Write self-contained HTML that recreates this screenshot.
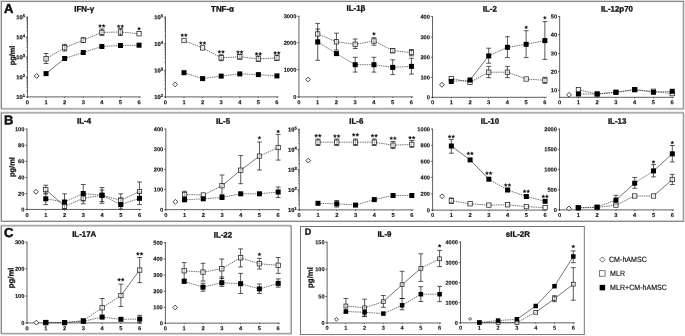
<!DOCTYPE html>
<html><head><meta charset="utf-8"><title>Cytokine panels</title>
<style>
html,body{margin:0;padding:0;background:#fff;}
body{width:685px;height:336px;overflow:hidden;font-family:"Liberation Sans",sans-serif;}
svg{display:block;filter:grayscale(1);}
</style></head><body>
<svg width="685" height="336" viewBox="0 0 685 336" font-family="Liberation Sans, sans-serif" text-rendering="geometricPrecision">
<rect x="0" y="0" width="685" height="336" fill="#fff"/>
<rect x="0.5499999999999999" y="0.6" width="682.25" height="107.5" fill="none" stroke="#d9d9d9" stroke-width="1.1"/>
<rect x="1.45" y="1.5" width="682.25" height="107.5" fill="none" stroke="#868686" stroke-width="1.05"/>
<rect x="0.5499999999999999" y="112.05" width="682.25" height="108.49999999999999" fill="none" stroke="#d9d9d9" stroke-width="1.1"/>
<rect x="1.45" y="112.95" width="682.25" height="108.49999999999999" fill="none" stroke="#868686" stroke-width="1.05"/>
<rect x="0.5499999999999999" y="225.0" width="289.85" height="107.95000000000002" fill="none" stroke="#d9d9d9" stroke-width="1.1"/>
<rect x="1.45" y="225.9" width="289.85" height="107.95000000000002" fill="none" stroke="#868686" stroke-width="1.05"/>
<rect x="300.5" y="226.5" width="283.79999999999995" height="108.10000000000002" fill="none" stroke="#686868" stroke-width="0.9"/>
<text x="4.00" y="12.90" transform="rotate(0.03 4.00 12.90)" font-size="13" text-anchor="start" font-weight="bold" fill="#111" stroke="#111" stroke-width="0.5">A</text>
<text x="4.00" y="124.40" transform="rotate(0.03 4.00 124.40)" font-size="13" text-anchor="start" font-weight="bold" fill="#111" stroke="#111" stroke-width="0.5">B</text>
<text x="4.00" y="237.10" transform="rotate(0.03 4.00 237.10)" font-size="13" text-anchor="start" font-weight="bold" fill="#111" stroke="#111" stroke-width="0.5">C</text>
<text x="304.80" y="234.70" transform="rotate(0.03 304.80 234.70)" font-size="9" text-anchor="start" font-weight="bold" fill="#111"  stroke="#111" stroke-width="0.3">D</text>
<text transform="translate(14.7,55.5) rotate(-90.03)" font-size="7.4" text-anchor="middle" font-weight="bold" fill="#111" stroke="#111" stroke-width="0.25">pg/ml</text>
<text transform="translate(14.6,167.1) rotate(-90.03)" font-size="7.5" text-anchor="middle" font-weight="bold" fill="#111" stroke="#111" stroke-width="0.25">pg/ml</text>
<text transform="translate(13.6,277.9) rotate(-90.03)" font-size="7.75" text-anchor="middle" font-weight="bold" fill="#111" stroke="#111" stroke-width="0.25">pg/ml</text>
<text transform="translate(312.7,277.5) rotate(-90.03)" font-size="7.8" text-anchor="middle" font-weight="bold" fill="#111" stroke="#111" stroke-width="0.25">pg/ml</text>
<line x1="27.45" y1="16.50" x2="27.45" y2="97.40" stroke="#222" stroke-width="0.72" />
<line x1="27.05" y1="96.90" x2="140.75" y2="96.90" stroke="#222" stroke-width="0.72" />
<line x1="27.45" y1="96.90" x2="27.45" y2="98.05" stroke="#222" stroke-width="0.648" />
<text x="27.45" y="104.25" transform="rotate(0.03 27.45 104.25)" font-size="5.7" text-anchor="middle" font-weight="bold" fill="#111"  stroke="#111" stroke-width="0.12">0</text>
<line x1="46.05" y1="96.90" x2="46.05" y2="98.05" stroke="#222" stroke-width="0.648" />
<text x="46.05" y="104.25" transform="rotate(0.03 46.05 104.25)" font-size="5.7" text-anchor="middle" font-weight="bold" fill="#111"  stroke="#111" stroke-width="0.12">1</text>
<line x1="64.65" y1="96.90" x2="64.65" y2="98.05" stroke="#222" stroke-width="0.648" />
<text x="64.65" y="104.25" transform="rotate(0.03 64.65 104.25)" font-size="5.7" text-anchor="middle" font-weight="bold" fill="#111"  stroke="#111" stroke-width="0.12">2</text>
<line x1="83.25" y1="96.90" x2="83.25" y2="98.05" stroke="#222" stroke-width="0.648" />
<text x="83.25" y="104.25" transform="rotate(0.03 83.25 104.25)" font-size="5.7" text-anchor="middle" font-weight="bold" fill="#111"  stroke="#111" stroke-width="0.12">3</text>
<line x1="101.85" y1="96.90" x2="101.85" y2="98.05" stroke="#222" stroke-width="0.648" />
<text x="101.85" y="104.25" transform="rotate(0.03 101.85 104.25)" font-size="5.7" text-anchor="middle" font-weight="bold" fill="#111"  stroke="#111" stroke-width="0.12">4</text>
<line x1="120.45" y1="96.90" x2="120.45" y2="98.05" stroke="#222" stroke-width="0.648" />
<text x="120.45" y="104.25" transform="rotate(0.03 120.45 104.25)" font-size="5.7" text-anchor="middle" font-weight="bold" fill="#111"  stroke="#111" stroke-width="0.12">5</text>
<line x1="139.05" y1="96.90" x2="139.05" y2="98.05" stroke="#222" stroke-width="0.648" />
<text x="139.05" y="104.25" transform="rotate(0.03 139.05 104.25)" font-size="5.7" text-anchor="middle" font-weight="bold" fill="#111"  stroke="#111" stroke-width="0.12">6</text>
<line x1="25.75" y1="96.90" x2="27.45" y2="96.90" stroke="#222" stroke-width="0.648" />
<text x="25.05" y="99.10" transform="rotate(0.03 25.05 99.10)" font-size="5.8" text-anchor="end" font-weight="bold" fill="#111" stroke="#111" stroke-width="0.2">10<tspan font-size="4.1" dy="-2.1">1</tspan></text>
<line x1="25.75" y1="76.95" x2="27.45" y2="76.95" stroke="#222" stroke-width="0.648" />
<text x="25.05" y="79.15" transform="rotate(0.03 25.05 79.15)" font-size="5.8" text-anchor="end" font-weight="bold" fill="#111" stroke="#111" stroke-width="0.2">10<tspan font-size="4.1" dy="-2.1">2</tspan></text>
<line x1="25.75" y1="57.00" x2="27.45" y2="57.00" stroke="#222" stroke-width="0.648" />
<text x="25.05" y="59.20" transform="rotate(0.03 25.05 59.20)" font-size="5.8" text-anchor="end" font-weight="bold" fill="#111" stroke="#111" stroke-width="0.2">10<tspan font-size="4.1" dy="-2.1">3</tspan></text>
<line x1="25.75" y1="37.05" x2="27.45" y2="37.05" stroke="#222" stroke-width="0.648" />
<text x="25.05" y="39.25" transform="rotate(0.03 25.05 39.25)" font-size="5.8" text-anchor="end" font-weight="bold" fill="#111" stroke="#111" stroke-width="0.2">10<tspan font-size="4.1" dy="-2.1">4</tspan></text>
<line x1="25.75" y1="17.10" x2="27.45" y2="17.10" stroke="#222" stroke-width="0.648" />
<text x="25.05" y="19.30" transform="rotate(0.03 25.05 19.30)" font-size="5.8" text-anchor="end" font-weight="bold" fill="#111" stroke="#111" stroke-width="0.2">10<tspan font-size="4.1" dy="-2.1">5</tspan></text>
<line x1="26.35" y1="90.89" x2="27.45" y2="90.89" stroke="#222" stroke-width="0.5" />
<line x1="26.35" y1="87.38" x2="27.45" y2="87.38" stroke="#222" stroke-width="0.5" />
<line x1="26.35" y1="84.89" x2="27.45" y2="84.89" stroke="#222" stroke-width="0.5" />
<line x1="26.35" y1="82.96" x2="27.45" y2="82.96" stroke="#222" stroke-width="0.5" />
<line x1="26.35" y1="81.38" x2="27.45" y2="81.38" stroke="#222" stroke-width="0.5" />
<line x1="26.35" y1="80.04" x2="27.45" y2="80.04" stroke="#222" stroke-width="0.5" />
<line x1="26.35" y1="78.88" x2="27.45" y2="78.88" stroke="#222" stroke-width="0.5" />
<line x1="26.35" y1="77.86" x2="27.45" y2="77.86" stroke="#222" stroke-width="0.5" />
<line x1="26.35" y1="70.94" x2="27.45" y2="70.94" stroke="#222" stroke-width="0.5" />
<line x1="26.35" y1="67.43" x2="27.45" y2="67.43" stroke="#222" stroke-width="0.5" />
<line x1="26.35" y1="64.94" x2="27.45" y2="64.94" stroke="#222" stroke-width="0.5" />
<line x1="26.35" y1="63.01" x2="27.45" y2="63.01" stroke="#222" stroke-width="0.5" />
<line x1="26.35" y1="61.43" x2="27.45" y2="61.43" stroke="#222" stroke-width="0.5" />
<line x1="26.35" y1="60.09" x2="27.45" y2="60.09" stroke="#222" stroke-width="0.5" />
<line x1="26.35" y1="58.93" x2="27.45" y2="58.93" stroke="#222" stroke-width="0.5" />
<line x1="26.35" y1="57.91" x2="27.45" y2="57.91" stroke="#222" stroke-width="0.5" />
<line x1="26.35" y1="50.99" x2="27.45" y2="50.99" stroke="#222" stroke-width="0.5" />
<line x1="26.35" y1="47.48" x2="27.45" y2="47.48" stroke="#222" stroke-width="0.5" />
<line x1="26.35" y1="44.99" x2="27.45" y2="44.99" stroke="#222" stroke-width="0.5" />
<line x1="26.35" y1="43.06" x2="27.45" y2="43.06" stroke="#222" stroke-width="0.5" />
<line x1="26.35" y1="41.48" x2="27.45" y2="41.48" stroke="#222" stroke-width="0.5" />
<line x1="26.35" y1="40.14" x2="27.45" y2="40.14" stroke="#222" stroke-width="0.5" />
<line x1="26.35" y1="38.98" x2="27.45" y2="38.98" stroke="#222" stroke-width="0.5" />
<line x1="26.35" y1="37.96" x2="27.45" y2="37.96" stroke="#222" stroke-width="0.5" />
<line x1="26.35" y1="31.04" x2="27.45" y2="31.04" stroke="#222" stroke-width="0.5" />
<line x1="26.35" y1="27.53" x2="27.45" y2="27.53" stroke="#222" stroke-width="0.5" />
<line x1="26.35" y1="25.04" x2="27.45" y2="25.04" stroke="#222" stroke-width="0.5" />
<line x1="26.35" y1="23.11" x2="27.45" y2="23.11" stroke="#222" stroke-width="0.5" />
<line x1="26.35" y1="21.53" x2="27.45" y2="21.53" stroke="#222" stroke-width="0.5" />
<line x1="26.35" y1="20.19" x2="27.45" y2="20.19" stroke="#222" stroke-width="0.5" />
<line x1="26.35" y1="19.03" x2="27.45" y2="19.03" stroke="#222" stroke-width="0.5" />
<line x1="26.35" y1="18.01" x2="27.45" y2="18.01" stroke="#222" stroke-width="0.5" />
<text x="84.20" y="11.60" transform="rotate(0.03 84.20 11.60)" font-size="7.9" text-anchor="middle" font-weight="bold" fill="#111"  stroke="#111" stroke-width="0.3">IFN-γ</text>
<line x1="46.05" y1="58.80" x2="64.65" y2="47.70" stroke="#2a2a2a" stroke-width="0.65" stroke-dasharray="1.5 0.8"/>
<line x1="64.65" y1="47.70" x2="83.25" y2="40.20" stroke="#2a2a2a" stroke-width="0.65" stroke-dasharray="1.5 0.8"/>
<line x1="83.25" y1="40.20" x2="101.85" y2="32.40" stroke="#2a2a2a" stroke-width="0.65" stroke-dasharray="1.5 0.8"/>
<line x1="101.85" y1="32.40" x2="120.45" y2="32.00" stroke="#2a2a2a" stroke-width="0.65" stroke-dasharray="1.5 0.8"/>
<line x1="120.45" y1="32.00" x2="139.05" y2="33.75" stroke="#2a2a2a" stroke-width="0.65" stroke-dasharray="1.5 0.8"/>
<line x1="46.05" y1="73.60" x2="64.65" y2="58.50" stroke="#2a2a2a" stroke-width="0.65" />
<line x1="64.65" y1="58.50" x2="83.25" y2="52.50" stroke="#2a2a2a" stroke-width="0.65" stroke-dasharray="1.5 0.8"/>
<line x1="83.25" y1="52.50" x2="101.85" y2="46.50" stroke="#2a2a2a" stroke-width="0.65" stroke-dasharray="1.5 0.8"/>
<line x1="101.85" y1="46.50" x2="120.45" y2="45.50" stroke="#2a2a2a" stroke-width="0.65" stroke-dasharray="1.5 0.8"/>
<line x1="120.45" y1="45.50" x2="139.05" y2="45.20" stroke="#2a2a2a" stroke-width="0.65" stroke-dasharray="1.5 0.8"/>
<line x1="46.05" y1="53.50" x2="46.05" y2="63.50" stroke="#1a1a1a" stroke-width="0.72" />
<line x1="43.65" y1="53.50" x2="48.45" y2="53.50" stroke="#1a1a1a" stroke-width="0.72" />
<line x1="43.65" y1="63.50" x2="48.45" y2="63.50" stroke="#1a1a1a" stroke-width="0.72" />
<line x1="64.65" y1="44.30" x2="64.65" y2="51.00" stroke="#1a1a1a" stroke-width="0.72" />
<line x1="62.25" y1="44.30" x2="67.05" y2="44.30" stroke="#1a1a1a" stroke-width="0.72" />
<line x1="62.25" y1="51.00" x2="67.05" y2="51.00" stroke="#1a1a1a" stroke-width="0.72" />
<line x1="83.25" y1="37.80" x2="83.25" y2="42.50" stroke="#1a1a1a" stroke-width="0.72" />
<line x1="80.85" y1="37.80" x2="85.65" y2="37.80" stroke="#1a1a1a" stroke-width="0.72" />
<line x1="80.85" y1="42.50" x2="85.65" y2="42.50" stroke="#1a1a1a" stroke-width="0.72" />
<line x1="101.85" y1="29.00" x2="101.85" y2="35.60" stroke="#1a1a1a" stroke-width="0.72" />
<line x1="99.45" y1="29.00" x2="104.25" y2="29.00" stroke="#1a1a1a" stroke-width="0.72" />
<line x1="99.45" y1="35.60" x2="104.25" y2="35.60" stroke="#1a1a1a" stroke-width="0.72" />
<line x1="120.45" y1="28.50" x2="120.45" y2="35.50" stroke="#1a1a1a" stroke-width="0.72" />
<line x1="118.05" y1="28.50" x2="122.85" y2="28.50" stroke="#1a1a1a" stroke-width="0.72" />
<line x1="118.05" y1="35.50" x2="122.85" y2="35.50" stroke="#1a1a1a" stroke-width="0.72" />
<rect x="43.88" y="56.62" width="4.35" height="4.35" fill="#fff" fill-opacity="0.6" stroke="#222" stroke-width="0.75"/>
<rect x="62.48" y="45.53" width="4.35" height="4.35" fill="#fff" fill-opacity="0.6" stroke="#222" stroke-width="0.75"/>
<rect x="81.08" y="38.03" width="4.35" height="4.35" fill="#fff" fill-opacity="0.6" stroke="#222" stroke-width="0.75"/>
<rect x="99.68" y="30.22" width="4.35" height="4.35" fill="#fff" fill-opacity="0.6" stroke="#222" stroke-width="0.75"/>
<rect x="118.28" y="29.82" width="4.35" height="4.35" fill="#fff" fill-opacity="0.6" stroke="#222" stroke-width="0.75"/>
<rect x="136.88" y="31.57" width="4.35" height="4.35" fill="#fff" fill-opacity="0.6" stroke="#222" stroke-width="0.75"/>
<rect x="43.55" y="71.10" width="5.0" height="5.0" fill="#000"/>
<rect x="62.15" y="56.00" width="5.0" height="5.0" fill="#000"/>
<rect x="80.75" y="50.00" width="5.0" height="5.0" fill="#000"/>
<rect x="99.35" y="44.00" width="5.0" height="5.0" fill="#000"/>
<rect x="117.95" y="43.00" width="5.0" height="5.0" fill="#000"/>
<rect x="136.55" y="42.70" width="5.0" height="5.0" fill="#000"/>
<path d="M34.30 75.90L36.70 73.50L39.10 75.90L36.70 78.30Z" fill="#fff" stroke="#222" stroke-width="0.85"/>
<polygon points="100.05,24.20 100.52,25.35 101.76,25.44 100.81,26.25 101.11,27.46 100.05,26.80 98.99,27.46 99.29,26.25 98.34,25.44 99.58,25.35" fill="#111" stroke="#111" stroke-width="0.25" stroke-linejoin="round"/>
<polygon points="103.65,24.20 104.12,25.35 105.36,25.44 104.41,26.25 104.71,27.46 103.65,26.80 102.59,27.46 102.89,26.25 101.94,25.44 103.18,25.35" fill="#111" stroke="#111" stroke-width="0.25" stroke-linejoin="round"/>
<polygon points="118.65,24.50 119.12,25.65 120.36,25.74 119.41,26.55 119.71,27.76 118.65,27.10 117.59,27.76 117.89,26.55 116.94,25.74 118.18,25.65" fill="#111" stroke="#111" stroke-width="0.25" stroke-linejoin="round"/>
<polygon points="122.25,24.50 122.72,25.65 123.96,25.74 123.01,26.55 123.31,27.76 122.25,27.10 121.19,27.76 121.49,26.55 120.54,25.74 121.78,25.65" fill="#111" stroke="#111" stroke-width="0.25" stroke-linejoin="round"/>
<polygon points="139.05,26.90 139.52,28.05 140.76,28.14 139.81,28.95 140.11,30.16 139.05,29.50 137.99,30.16 138.29,28.95 137.34,28.14 138.58,28.05" fill="#111" stroke="#111" stroke-width="0.25" stroke-linejoin="round"/>
<line x1="165.45" y1="16.50" x2="165.45" y2="97.40" stroke="#222" stroke-width="0.72" />
<line x1="165.05" y1="96.90" x2="278.63" y2="96.90" stroke="#222" stroke-width="0.72" />
<line x1="165.45" y1="96.90" x2="165.45" y2="98.05" stroke="#222" stroke-width="0.648" />
<text x="165.45" y="104.25" transform="rotate(0.03 165.45 104.25)" font-size="5.7" text-anchor="middle" font-weight="bold" fill="#111"  stroke="#111" stroke-width="0.12">0</text>
<line x1="184.03" y1="96.90" x2="184.03" y2="98.05" stroke="#222" stroke-width="0.648" />
<text x="184.03" y="104.25" transform="rotate(0.03 184.03 104.25)" font-size="5.7" text-anchor="middle" font-weight="bold" fill="#111"  stroke="#111" stroke-width="0.12">1</text>
<line x1="202.61" y1="96.90" x2="202.61" y2="98.05" stroke="#222" stroke-width="0.648" />
<text x="202.61" y="104.25" transform="rotate(0.03 202.61 104.25)" font-size="5.7" text-anchor="middle" font-weight="bold" fill="#111"  stroke="#111" stroke-width="0.12">2</text>
<line x1="221.19" y1="96.90" x2="221.19" y2="98.05" stroke="#222" stroke-width="0.648" />
<text x="221.19" y="104.25" transform="rotate(0.03 221.19 104.25)" font-size="5.7" text-anchor="middle" font-weight="bold" fill="#111"  stroke="#111" stroke-width="0.12">3</text>
<line x1="239.77" y1="96.90" x2="239.77" y2="98.05" stroke="#222" stroke-width="0.648" />
<text x="239.77" y="104.25" transform="rotate(0.03 239.77 104.25)" font-size="5.7" text-anchor="middle" font-weight="bold" fill="#111"  stroke="#111" stroke-width="0.12">4</text>
<line x1="258.35" y1="96.90" x2="258.35" y2="98.05" stroke="#222" stroke-width="0.648" />
<text x="258.35" y="104.25" transform="rotate(0.03 258.35 104.25)" font-size="5.7" text-anchor="middle" font-weight="bold" fill="#111"  stroke="#111" stroke-width="0.12">5</text>
<line x1="276.93" y1="96.90" x2="276.93" y2="98.05" stroke="#222" stroke-width="0.648" />
<text x="276.93" y="104.25" transform="rotate(0.03 276.93 104.25)" font-size="5.7" text-anchor="middle" font-weight="bold" fill="#111"  stroke="#111" stroke-width="0.12">6</text>
<line x1="163.75" y1="96.90" x2="165.45" y2="96.90" stroke="#222" stroke-width="0.648" />
<text x="163.05" y="99.10" transform="rotate(0.03 163.05 99.10)" font-size="5.8" text-anchor="end" font-weight="bold" fill="#111" stroke="#111" stroke-width="0.2">10<tspan font-size="4.1" dy="-2.1">2</tspan></text>
<line x1="163.75" y1="70.30" x2="165.45" y2="70.30" stroke="#222" stroke-width="0.648" />
<text x="163.05" y="72.50" transform="rotate(0.03 163.05 72.50)" font-size="5.8" text-anchor="end" font-weight="bold" fill="#111" stroke="#111" stroke-width="0.2">10<tspan font-size="4.1" dy="-2.1">3</tspan></text>
<line x1="163.75" y1="43.70" x2="165.45" y2="43.70" stroke="#222" stroke-width="0.648" />
<text x="163.05" y="45.90" transform="rotate(0.03 163.05 45.90)" font-size="5.8" text-anchor="end" font-weight="bold" fill="#111" stroke="#111" stroke-width="0.2">10<tspan font-size="4.1" dy="-2.1">4</tspan></text>
<line x1="163.75" y1="17.10" x2="165.45" y2="17.10" stroke="#222" stroke-width="0.648" />
<text x="163.05" y="19.30" transform="rotate(0.03 163.05 19.30)" font-size="5.8" text-anchor="end" font-weight="bold" fill="#111" stroke="#111" stroke-width="0.2">10<tspan font-size="4.1" dy="-2.1">5</tspan></text>
<line x1="164.35" y1="88.89" x2="165.45" y2="88.89" stroke="#222" stroke-width="0.5" />
<line x1="164.35" y1="84.21" x2="165.45" y2="84.21" stroke="#222" stroke-width="0.5" />
<line x1="164.35" y1="80.89" x2="165.45" y2="80.89" stroke="#222" stroke-width="0.5" />
<line x1="164.35" y1="78.31" x2="165.45" y2="78.31" stroke="#222" stroke-width="0.5" />
<line x1="164.35" y1="76.20" x2="165.45" y2="76.20" stroke="#222" stroke-width="0.5" />
<line x1="164.35" y1="74.42" x2="165.45" y2="74.42" stroke="#222" stroke-width="0.5" />
<line x1="164.35" y1="72.88" x2="165.45" y2="72.88" stroke="#222" stroke-width="0.5" />
<line x1="164.35" y1="71.52" x2="165.45" y2="71.52" stroke="#222" stroke-width="0.5" />
<line x1="164.35" y1="62.29" x2="165.45" y2="62.29" stroke="#222" stroke-width="0.5" />
<line x1="164.35" y1="57.61" x2="165.45" y2="57.61" stroke="#222" stroke-width="0.5" />
<line x1="164.35" y1="54.29" x2="165.45" y2="54.29" stroke="#222" stroke-width="0.5" />
<line x1="164.35" y1="51.71" x2="165.45" y2="51.71" stroke="#222" stroke-width="0.5" />
<line x1="164.35" y1="49.60" x2="165.45" y2="49.60" stroke="#222" stroke-width="0.5" />
<line x1="164.35" y1="47.82" x2="165.45" y2="47.82" stroke="#222" stroke-width="0.5" />
<line x1="164.35" y1="46.28" x2="165.45" y2="46.28" stroke="#222" stroke-width="0.5" />
<line x1="164.35" y1="44.92" x2="165.45" y2="44.92" stroke="#222" stroke-width="0.5" />
<line x1="164.35" y1="35.69" x2="165.45" y2="35.69" stroke="#222" stroke-width="0.5" />
<line x1="164.35" y1="31.01" x2="165.45" y2="31.01" stroke="#222" stroke-width="0.5" />
<line x1="164.35" y1="27.69" x2="165.45" y2="27.69" stroke="#222" stroke-width="0.5" />
<line x1="164.35" y1="25.11" x2="165.45" y2="25.11" stroke="#222" stroke-width="0.5" />
<line x1="164.35" y1="23.00" x2="165.45" y2="23.00" stroke="#222" stroke-width="0.5" />
<line x1="164.35" y1="21.22" x2="165.45" y2="21.22" stroke="#222" stroke-width="0.5" />
<line x1="164.35" y1="19.68" x2="165.45" y2="19.68" stroke="#222" stroke-width="0.5" />
<line x1="164.35" y1="18.32" x2="165.45" y2="18.32" stroke="#222" stroke-width="0.5" />
<text x="222.50" y="11.40" transform="rotate(0.03 222.50 11.40)" font-size="7.9" text-anchor="middle" font-weight="bold" fill="#111"  stroke="#111" stroke-width="0.3">TNF-α</text>
<line x1="184.03" y1="40.50" x2="202.61" y2="47.90" stroke="#2a2a2a" stroke-width="0.65" stroke-dasharray="1.5 0.8"/>
<line x1="202.61" y1="47.90" x2="221.19" y2="57.80" stroke="#2a2a2a" stroke-width="0.65" stroke-dasharray="1.5 0.8"/>
<line x1="221.19" y1="57.80" x2="239.77" y2="56.80" stroke="#2a2a2a" stroke-width="0.65" stroke-dasharray="1.5 0.8"/>
<line x1="239.77" y1="56.80" x2="258.35" y2="58.90" stroke="#2a2a2a" stroke-width="0.65" stroke-dasharray="1.5 0.8"/>
<line x1="258.35" y1="58.90" x2="276.93" y2="57.90" stroke="#2a2a2a" stroke-width="0.65" stroke-dasharray="1.5 0.8"/>
<line x1="184.03" y1="72.70" x2="202.61" y2="78.60" stroke="#2a2a2a" stroke-width="0.65" stroke-dasharray="1.5 0.8"/>
<line x1="202.61" y1="78.60" x2="221.19" y2="76.10" stroke="#2a2a2a" stroke-width="0.65" stroke-dasharray="1.5 0.8"/>
<line x1="221.19" y1="76.10" x2="239.77" y2="73.90" stroke="#2a2a2a" stroke-width="0.65" stroke-dasharray="1.5 0.8"/>
<line x1="239.77" y1="73.90" x2="258.35" y2="74.60" stroke="#2a2a2a" stroke-width="0.65" stroke-dasharray="1.5 0.8"/>
<line x1="258.35" y1="74.60" x2="276.93" y2="75.90" stroke="#2a2a2a" stroke-width="0.65" stroke-dasharray="1.5 0.8"/>
<line x1="221.19" y1="54.80" x2="221.19" y2="60.70" stroke="#1a1a1a" stroke-width="0.72" />
<line x1="218.79" y1="54.80" x2="223.59" y2="54.80" stroke="#1a1a1a" stroke-width="0.72" />
<line x1="218.79" y1="60.70" x2="223.59" y2="60.70" stroke="#1a1a1a" stroke-width="0.72" />
<line x1="239.77" y1="54.30" x2="239.77" y2="59.30" stroke="#1a1a1a" stroke-width="0.72" />
<line x1="237.37" y1="54.30" x2="242.17" y2="54.30" stroke="#1a1a1a" stroke-width="0.72" />
<line x1="237.37" y1="59.30" x2="242.17" y2="59.30" stroke="#1a1a1a" stroke-width="0.72" />
<line x1="258.35" y1="56.00" x2="258.35" y2="61.50" stroke="#1a1a1a" stroke-width="0.72" />
<line x1="255.95" y1="56.00" x2="260.75" y2="56.00" stroke="#1a1a1a" stroke-width="0.72" />
<line x1="255.95" y1="61.50" x2="260.75" y2="61.50" stroke="#1a1a1a" stroke-width="0.72" />
<line x1="276.93" y1="55.20" x2="276.93" y2="60.50" stroke="#1a1a1a" stroke-width="0.72" />
<line x1="274.53" y1="55.20" x2="279.33" y2="55.20" stroke="#1a1a1a" stroke-width="0.72" />
<line x1="274.53" y1="60.50" x2="279.33" y2="60.50" stroke="#1a1a1a" stroke-width="0.72" />
<rect x="181.85" y="38.33" width="4.35" height="4.35" fill="#fff" fill-opacity="0.6" stroke="#222" stroke-width="0.75"/>
<rect x="200.43" y="45.73" width="4.35" height="4.35" fill="#fff" fill-opacity="0.6" stroke="#222" stroke-width="0.75"/>
<rect x="219.01" y="55.62" width="4.35" height="4.35" fill="#fff" fill-opacity="0.6" stroke="#222" stroke-width="0.75"/>
<rect x="237.59" y="54.62" width="4.35" height="4.35" fill="#fff" fill-opacity="0.6" stroke="#222" stroke-width="0.75"/>
<rect x="256.17" y="56.73" width="4.35" height="4.35" fill="#fff" fill-opacity="0.6" stroke="#222" stroke-width="0.75"/>
<rect x="274.75" y="55.73" width="4.35" height="4.35" fill="#fff" fill-opacity="0.6" stroke="#222" stroke-width="0.75"/>
<rect x="181.53" y="70.20" width="5.0" height="5.0" fill="#000"/>
<rect x="200.11" y="76.10" width="5.0" height="5.0" fill="#000"/>
<rect x="218.69" y="73.60" width="5.0" height="5.0" fill="#000"/>
<rect x="237.27" y="71.40" width="5.0" height="5.0" fill="#000"/>
<rect x="255.85" y="72.10" width="5.0" height="5.0" fill="#000"/>
<rect x="274.43" y="73.40" width="5.0" height="5.0" fill="#000"/>
<path d="M172.80 84.40L175.20 82.00L177.60 84.40L175.20 86.80Z" fill="#fff" stroke="#222" stroke-width="0.85"/>
<polygon points="182.23,33.40 182.70,34.55 183.94,34.64 182.99,35.45 183.29,36.66 182.23,36.00 181.17,36.66 181.47,35.45 180.52,34.64 181.76,34.55" fill="#111" stroke="#111" stroke-width="0.25" stroke-linejoin="round"/>
<polygon points="185.83,33.40 186.30,34.55 187.54,34.64 186.59,35.45 186.89,36.66 185.83,36.00 184.77,36.66 185.07,35.45 184.12,34.64 185.36,34.55" fill="#111" stroke="#111" stroke-width="0.25" stroke-linejoin="round"/>
<polygon points="200.81,41.30 201.28,42.45 202.52,42.54 201.57,43.35 201.87,44.56 200.81,43.90 199.75,44.56 200.05,43.35 199.10,42.54 200.34,42.45" fill="#111" stroke="#111" stroke-width="0.25" stroke-linejoin="round"/>
<polygon points="204.41,41.30 204.88,42.45 206.12,42.54 205.17,43.35 205.47,44.56 204.41,43.90 203.35,44.56 203.65,43.35 202.70,42.54 203.94,42.45" fill="#111" stroke="#111" stroke-width="0.25" stroke-linejoin="round"/>
<polygon points="219.39,50.10 219.86,51.25 221.10,51.34 220.15,52.15 220.45,53.36 219.39,52.70 218.33,53.36 218.63,52.15 217.68,51.34 218.92,51.25" fill="#111" stroke="#111" stroke-width="0.25" stroke-linejoin="round"/>
<polygon points="222.99,50.10 223.46,51.25 224.70,51.34 223.75,52.15 224.05,53.36 222.99,52.70 221.93,53.36 222.23,52.15 221.28,51.34 222.52,51.25" fill="#111" stroke="#111" stroke-width="0.25" stroke-linejoin="round"/>
<polygon points="237.97,50.35 238.44,51.50 239.68,51.59 238.73,52.40 239.03,53.61 237.97,52.95 236.91,53.61 237.21,52.40 236.26,51.59 237.50,51.50" fill="#111" stroke="#111" stroke-width="0.25" stroke-linejoin="round"/>
<polygon points="241.57,50.35 242.04,51.50 243.28,51.59 242.33,52.40 242.63,53.61 241.57,52.95 240.51,53.61 240.81,52.40 239.86,51.59 241.10,51.50" fill="#111" stroke="#111" stroke-width="0.25" stroke-linejoin="round"/>
<polygon points="256.55,52.10 257.02,53.25 258.26,53.34 257.31,54.15 257.61,55.36 256.55,54.70 255.49,55.36 255.79,54.15 254.84,53.34 256.08,53.25" fill="#111" stroke="#111" stroke-width="0.25" stroke-linejoin="round"/>
<polygon points="260.15,52.10 260.62,53.25 261.86,53.34 260.91,54.15 261.21,55.36 260.15,54.70 259.09,55.36 259.39,54.15 258.44,53.34 259.68,53.25" fill="#111" stroke="#111" stroke-width="0.25" stroke-linejoin="round"/>
<polygon points="275.13,51.20 275.60,52.35 276.84,52.44 275.89,53.25 276.19,54.46 275.13,53.80 274.07,54.46 274.37,53.25 273.42,52.44 274.66,52.35" fill="#111" stroke="#111" stroke-width="0.25" stroke-linejoin="round"/>
<polygon points="278.73,51.20 279.20,52.35 280.44,52.44 279.49,53.25 279.79,54.46 278.73,53.80 277.67,54.46 277.97,53.25 277.02,52.44 278.26,52.35" fill="#111" stroke="#111" stroke-width="0.25" stroke-linejoin="round"/>
<line x1="298.95" y1="15.80" x2="298.95" y2="97.40" stroke="#222" stroke-width="0.72" />
<line x1="298.55" y1="96.90" x2="413.15" y2="96.90" stroke="#222" stroke-width="0.72" />
<line x1="298.95" y1="96.90" x2="298.95" y2="98.05" stroke="#222" stroke-width="0.648" />
<text x="298.95" y="104.25" transform="rotate(0.03 298.95 104.25)" font-size="5.7" text-anchor="middle" font-weight="bold" fill="#111"  stroke="#111" stroke-width="0.12">0</text>
<line x1="317.70" y1="96.90" x2="317.70" y2="98.05" stroke="#222" stroke-width="0.648" />
<text x="317.70" y="104.25" transform="rotate(0.03 317.70 104.25)" font-size="5.7" text-anchor="middle" font-weight="bold" fill="#111"  stroke="#111" stroke-width="0.12">1</text>
<line x1="336.45" y1="96.90" x2="336.45" y2="98.05" stroke="#222" stroke-width="0.648" />
<text x="336.45" y="104.25" transform="rotate(0.03 336.45 104.25)" font-size="5.7" text-anchor="middle" font-weight="bold" fill="#111"  stroke="#111" stroke-width="0.12">2</text>
<line x1="355.20" y1="96.90" x2="355.20" y2="98.05" stroke="#222" stroke-width="0.648" />
<text x="355.20" y="104.25" transform="rotate(0.03 355.20 104.25)" font-size="5.7" text-anchor="middle" font-weight="bold" fill="#111"  stroke="#111" stroke-width="0.12">3</text>
<line x1="373.95" y1="96.90" x2="373.95" y2="98.05" stroke="#222" stroke-width="0.648" />
<text x="373.95" y="104.25" transform="rotate(0.03 373.95 104.25)" font-size="5.7" text-anchor="middle" font-weight="bold" fill="#111"  stroke="#111" stroke-width="0.12">4</text>
<line x1="392.70" y1="96.90" x2="392.70" y2="98.05" stroke="#222" stroke-width="0.648" />
<text x="392.70" y="104.25" transform="rotate(0.03 392.70 104.25)" font-size="5.7" text-anchor="middle" font-weight="bold" fill="#111"  stroke="#111" stroke-width="0.12">5</text>
<line x1="411.45" y1="96.90" x2="411.45" y2="98.05" stroke="#222" stroke-width="0.648" />
<text x="411.45" y="104.25" transform="rotate(0.03 411.45 104.25)" font-size="5.7" text-anchor="middle" font-weight="bold" fill="#111"  stroke="#111" stroke-width="0.12">6</text>
<line x1="297.25" y1="96.90" x2="298.95" y2="96.90" stroke="#222" stroke-width="0.648" />
<text x="296.35" y="98.95" transform="rotate(0.03 296.35 98.95)" font-size="5.7" text-anchor="end" font-weight="bold" fill="#111"  stroke="#111" stroke-width="0.12">0</text>
<line x1="297.25" y1="69.60" x2="298.95" y2="69.60" stroke="#222" stroke-width="0.648" />
<text x="296.35" y="71.65" transform="rotate(0.03 296.35 71.65)" font-size="5.7" text-anchor="end" font-weight="bold" fill="#111"  stroke="#111" stroke-width="0.12">1000</text>
<line x1="297.25" y1="42.70" x2="298.95" y2="42.70" stroke="#222" stroke-width="0.648" />
<text x="296.35" y="44.75" transform="rotate(0.03 296.35 44.75)" font-size="5.7" text-anchor="end" font-weight="bold" fill="#111"  stroke="#111" stroke-width="0.12">2000</text>
<line x1="297.25" y1="16.30" x2="298.95" y2="16.30" stroke="#222" stroke-width="0.648" />
<text x="296.35" y="18.35" transform="rotate(0.03 296.35 18.35)" font-size="5.7" text-anchor="end" font-weight="bold" fill="#111"  stroke="#111" stroke-width="0.12">3000</text>
<text x="356.00" y="10.70" transform="rotate(0.03 356.00 10.70)" font-size="7.9" text-anchor="middle" font-weight="bold" fill="#111"  stroke="#111" stroke-width="0.3">IL-1β</text>
<line x1="317.70" y1="34.00" x2="336.45" y2="41.80" stroke="#2a2a2a" stroke-width="0.65" stroke-dasharray="1.5 0.8"/>
<line x1="336.45" y1="41.80" x2="355.20" y2="44.30" stroke="#2a2a2a" stroke-width="0.65" stroke-dasharray="1.5 0.8"/>
<line x1="355.20" y1="44.30" x2="373.95" y2="41.00" stroke="#2a2a2a" stroke-width="0.65" stroke-dasharray="1.5 0.8"/>
<line x1="373.95" y1="41.00" x2="392.70" y2="50.60" stroke="#2a2a2a" stroke-width="0.65" stroke-dasharray="1.5 0.8"/>
<line x1="392.70" y1="50.60" x2="411.45" y2="52.60" stroke="#2a2a2a" stroke-width="0.65" stroke-dasharray="1.5 0.8"/>
<line x1="317.70" y1="41.80" x2="336.45" y2="53.60" stroke="#2a2a2a" stroke-width="0.65" stroke-dasharray="1.5 0.8"/>
<line x1="336.45" y1="53.60" x2="355.20" y2="64.70" stroke="#2a2a2a" stroke-width="0.65" stroke-dasharray="1.5 0.8"/>
<line x1="355.20" y1="64.70" x2="373.95" y2="64.70" stroke="#2a2a2a" stroke-width="0.65" stroke-dasharray="1.5 0.8"/>
<line x1="373.95" y1="64.70" x2="392.70" y2="67.40" stroke="#2a2a2a" stroke-width="0.65" stroke-dasharray="1.5 0.8"/>
<line x1="392.70" y1="67.40" x2="411.45" y2="66.40" stroke="#2a2a2a" stroke-width="0.65" stroke-dasharray="1.5 0.8"/>
<line x1="317.70" y1="23.40" x2="317.70" y2="44.00" stroke="#1a1a1a" stroke-width="0.72" />
<line x1="315.30" y1="23.40" x2="320.10" y2="23.40" stroke="#1a1a1a" stroke-width="0.72" />
<line x1="315.30" y1="44.00" x2="320.10" y2="44.00" stroke="#1a1a1a" stroke-width="0.72" />
<line x1="336.45" y1="33.20" x2="336.45" y2="50.00" stroke="#1a1a1a" stroke-width="0.72" />
<line x1="334.05" y1="33.20" x2="338.85" y2="33.20" stroke="#1a1a1a" stroke-width="0.72" />
<line x1="334.05" y1="50.00" x2="338.85" y2="50.00" stroke="#1a1a1a" stroke-width="0.72" />
<line x1="355.20" y1="39.00" x2="355.20" y2="48.50" stroke="#1a1a1a" stroke-width="0.72" />
<line x1="352.80" y1="39.00" x2="357.60" y2="39.00" stroke="#1a1a1a" stroke-width="0.72" />
<line x1="352.80" y1="48.50" x2="357.60" y2="48.50" stroke="#1a1a1a" stroke-width="0.72" />
<line x1="373.95" y1="37.70" x2="373.95" y2="45.20" stroke="#1a1a1a" stroke-width="0.72" />
<line x1="371.55" y1="37.70" x2="376.35" y2="37.70" stroke="#1a1a1a" stroke-width="0.72" />
<line x1="371.55" y1="45.20" x2="376.35" y2="45.20" stroke="#1a1a1a" stroke-width="0.72" />
<line x1="392.70" y1="48.50" x2="392.70" y2="52.80" stroke="#1a1a1a" stroke-width="0.72" />
<line x1="390.30" y1="48.50" x2="395.10" y2="48.50" stroke="#1a1a1a" stroke-width="0.72" />
<line x1="390.30" y1="52.80" x2="395.10" y2="52.80" stroke="#1a1a1a" stroke-width="0.72" />
<line x1="411.45" y1="49.50" x2="411.45" y2="55.80" stroke="#1a1a1a" stroke-width="0.72" />
<line x1="409.05" y1="49.50" x2="413.85" y2="49.50" stroke="#1a1a1a" stroke-width="0.72" />
<line x1="409.05" y1="55.80" x2="413.85" y2="55.80" stroke="#1a1a1a" stroke-width="0.72" />
<line x1="317.70" y1="29.00" x2="317.70" y2="60.30" stroke="#1a1a1a" stroke-width="0.72" />
<line x1="315.30" y1="29.00" x2="320.10" y2="29.00" stroke="#1a1a1a" stroke-width="0.72" />
<line x1="315.30" y1="60.30" x2="320.10" y2="60.30" stroke="#1a1a1a" stroke-width="0.72" />
<line x1="355.20" y1="57.30" x2="355.20" y2="72.10" stroke="#1a1a1a" stroke-width="0.72" />
<line x1="352.80" y1="57.30" x2="357.60" y2="57.30" stroke="#1a1a1a" stroke-width="0.72" />
<line x1="352.80" y1="72.10" x2="357.60" y2="72.10" stroke="#1a1a1a" stroke-width="0.72" />
<line x1="373.95" y1="57.30" x2="373.95" y2="72.10" stroke="#1a1a1a" stroke-width="0.72" />
<line x1="371.55" y1="57.30" x2="376.35" y2="57.30" stroke="#1a1a1a" stroke-width="0.72" />
<line x1="371.55" y1="72.10" x2="376.35" y2="72.10" stroke="#1a1a1a" stroke-width="0.72" />
<line x1="392.70" y1="59.80" x2="392.70" y2="74.60" stroke="#1a1a1a" stroke-width="0.72" />
<line x1="390.30" y1="59.80" x2="395.10" y2="59.80" stroke="#1a1a1a" stroke-width="0.72" />
<line x1="390.30" y1="74.60" x2="395.10" y2="74.60" stroke="#1a1a1a" stroke-width="0.72" />
<line x1="411.45" y1="58.30" x2="411.45" y2="74.10" stroke="#1a1a1a" stroke-width="0.72" />
<line x1="409.05" y1="58.30" x2="413.85" y2="58.30" stroke="#1a1a1a" stroke-width="0.72" />
<line x1="409.05" y1="74.10" x2="413.85" y2="74.10" stroke="#1a1a1a" stroke-width="0.72" />
<rect x="315.52" y="31.82" width="4.35" height="4.35" fill="#fff" fill-opacity="0.6" stroke="#222" stroke-width="0.75"/>
<rect x="334.27" y="39.62" width="4.35" height="4.35" fill="#fff" fill-opacity="0.6" stroke="#222" stroke-width="0.75"/>
<rect x="353.02" y="42.12" width="4.35" height="4.35" fill="#fff" fill-opacity="0.6" stroke="#222" stroke-width="0.75"/>
<rect x="371.77" y="38.83" width="4.35" height="4.35" fill="#fff" fill-opacity="0.6" stroke="#222" stroke-width="0.75"/>
<rect x="390.52" y="48.43" width="4.35" height="4.35" fill="#fff" fill-opacity="0.6" stroke="#222" stroke-width="0.75"/>
<rect x="409.27" y="50.43" width="4.35" height="4.35" fill="#fff" fill-opacity="0.6" stroke="#222" stroke-width="0.75"/>
<rect x="315.20" y="39.30" width="5.0" height="5.0" fill="#000"/>
<rect x="333.95" y="51.10" width="5.0" height="5.0" fill="#000"/>
<rect x="352.70" y="62.20" width="5.0" height="5.0" fill="#000"/>
<rect x="371.45" y="62.20" width="5.0" height="5.0" fill="#000"/>
<rect x="390.20" y="64.90" width="5.0" height="5.0" fill="#000"/>
<rect x="408.95" y="63.90" width="5.0" height="5.0" fill="#000"/>
<path d="M305.70 79.50L308.10 77.10L310.50 79.50L308.10 81.90Z" fill="#fff" stroke="#222" stroke-width="0.85"/>
<polygon points="373.95,32.05 374.42,33.20 375.66,33.29 374.71,34.10 375.01,35.31 373.95,34.65 372.89,35.31 373.19,34.10 372.24,33.29 373.48,33.20" fill="#111" stroke="#111" stroke-width="0.25" stroke-linejoin="round"/>
<line x1="432.55" y1="16.10" x2="432.55" y2="97.80" stroke="#222" stroke-width="0.72" />
<line x1="432.15" y1="97.30" x2="546.57" y2="97.30" stroke="#222" stroke-width="0.72" />
<line x1="432.55" y1="97.30" x2="432.55" y2="98.45" stroke="#222" stroke-width="0.648" />
<text x="432.55" y="104.25" transform="rotate(0.03 432.55 104.25)" font-size="5.7" text-anchor="middle" font-weight="bold" fill="#111"  stroke="#111" stroke-width="0.12">0</text>
<line x1="451.27" y1="97.30" x2="451.27" y2="98.45" stroke="#222" stroke-width="0.648" />
<text x="451.27" y="104.25" transform="rotate(0.03 451.27 104.25)" font-size="5.7" text-anchor="middle" font-weight="bold" fill="#111"  stroke="#111" stroke-width="0.12">1</text>
<line x1="469.99" y1="97.30" x2="469.99" y2="98.45" stroke="#222" stroke-width="0.648" />
<text x="469.99" y="104.25" transform="rotate(0.03 469.99 104.25)" font-size="5.7" text-anchor="middle" font-weight="bold" fill="#111"  stroke="#111" stroke-width="0.12">2</text>
<line x1="488.71" y1="97.30" x2="488.71" y2="98.45" stroke="#222" stroke-width="0.648" />
<text x="488.71" y="104.25" transform="rotate(0.03 488.71 104.25)" font-size="5.7" text-anchor="middle" font-weight="bold" fill="#111"  stroke="#111" stroke-width="0.12">3</text>
<line x1="507.43" y1="97.30" x2="507.43" y2="98.45" stroke="#222" stroke-width="0.648" />
<text x="507.43" y="104.25" transform="rotate(0.03 507.43 104.25)" font-size="5.7" text-anchor="middle" font-weight="bold" fill="#111"  stroke="#111" stroke-width="0.12">4</text>
<line x1="526.15" y1="97.30" x2="526.15" y2="98.45" stroke="#222" stroke-width="0.648" />
<text x="526.15" y="104.25" transform="rotate(0.03 526.15 104.25)" font-size="5.7" text-anchor="middle" font-weight="bold" fill="#111"  stroke="#111" stroke-width="0.12">5</text>
<line x1="544.87" y1="97.30" x2="544.87" y2="98.45" stroke="#222" stroke-width="0.648" />
<text x="544.87" y="104.25" transform="rotate(0.03 544.87 104.25)" font-size="5.7" text-anchor="middle" font-weight="bold" fill="#111"  stroke="#111" stroke-width="0.12">6</text>
<line x1="430.85" y1="97.30" x2="432.55" y2="97.30" stroke="#222" stroke-width="0.648" />
<text x="429.95" y="99.35" transform="rotate(0.03 429.95 99.35)" font-size="5.7" text-anchor="end" font-weight="bold" fill="#111"  stroke="#111" stroke-width="0.12">0</text>
<line x1="430.85" y1="77.40" x2="432.55" y2="77.40" stroke="#222" stroke-width="0.648" />
<text x="429.95" y="79.45" transform="rotate(0.03 429.95 79.45)" font-size="5.7" text-anchor="end" font-weight="bold" fill="#111"  stroke="#111" stroke-width="0.12">100</text>
<line x1="430.85" y1="57.30" x2="432.55" y2="57.30" stroke="#222" stroke-width="0.648" />
<text x="429.95" y="59.35" transform="rotate(0.03 429.95 59.35)" font-size="5.7" text-anchor="end" font-weight="bold" fill="#111"  stroke="#111" stroke-width="0.12">200</text>
<line x1="430.85" y1="37.20" x2="432.55" y2="37.20" stroke="#222" stroke-width="0.648" />
<text x="429.95" y="39.25" transform="rotate(0.03 429.95 39.25)" font-size="5.7" text-anchor="end" font-weight="bold" fill="#111"  stroke="#111" stroke-width="0.12">300</text>
<line x1="430.85" y1="16.60" x2="432.55" y2="16.60" stroke="#222" stroke-width="0.648" />
<text x="429.95" y="18.65" transform="rotate(0.03 429.95 18.65)" font-size="5.7" text-anchor="end" font-weight="bold" fill="#111"  stroke="#111" stroke-width="0.12">400</text>
<text x="489.80" y="11.50" transform="rotate(0.03 489.80 11.50)" font-size="7.9" text-anchor="middle" font-weight="bold" fill="#111"  stroke="#111" stroke-width="0.3">IL-2</text>
<line x1="451.27" y1="78.50" x2="469.99" y2="82.30" stroke="#2a2a2a" stroke-width="0.65" stroke-dasharray="1.5 0.8"/>
<line x1="469.99" y1="82.30" x2="488.71" y2="72.20" stroke="#2a2a2a" stroke-width="0.65" stroke-dasharray="1.5 0.8"/>
<line x1="488.71" y1="72.20" x2="507.43" y2="72.20" stroke="#2a2a2a" stroke-width="0.65" stroke-dasharray="1.5 0.8"/>
<line x1="507.43" y1="72.20" x2="526.15" y2="79.00" stroke="#2a2a2a" stroke-width="0.65" stroke-dasharray="1.5 0.8"/>
<line x1="526.15" y1="79.00" x2="544.87" y2="80.30" stroke="#2a2a2a" stroke-width="0.65" stroke-dasharray="1.5 0.8"/>
<line x1="451.27" y1="81.50" x2="469.99" y2="80.00" stroke="#2a2a2a" stroke-width="0.65" stroke-dasharray="1.5 0.8"/>
<line x1="469.99" y1="80.00" x2="488.71" y2="55.90" stroke="#2a2a2a" stroke-width="0.65" />
<line x1="488.71" y1="55.90" x2="507.43" y2="47.30" stroke="#2a2a2a" stroke-width="0.65" stroke-dasharray="1.5 0.8"/>
<line x1="507.43" y1="47.30" x2="526.15" y2="44.30" stroke="#2a2a2a" stroke-width="0.65" stroke-dasharray="1.5 0.8"/>
<line x1="526.15" y1="44.30" x2="544.87" y2="40.60" stroke="#2a2a2a" stroke-width="0.65" stroke-dasharray="1.5 0.8"/>
<line x1="488.71" y1="66.40" x2="488.71" y2="77.70" stroke="#1a1a1a" stroke-width="0.72" />
<line x1="486.31" y1="66.40" x2="491.11" y2="66.40" stroke="#1a1a1a" stroke-width="0.72" />
<line x1="486.31" y1="77.70" x2="491.11" y2="77.70" stroke="#1a1a1a" stroke-width="0.72" />
<line x1="507.43" y1="66.40" x2="507.43" y2="77.70" stroke="#1a1a1a" stroke-width="0.72" />
<line x1="505.03" y1="66.40" x2="509.83" y2="66.40" stroke="#1a1a1a" stroke-width="0.72" />
<line x1="505.03" y1="77.70" x2="509.83" y2="77.70" stroke="#1a1a1a" stroke-width="0.72" />
<line x1="544.87" y1="77.30" x2="544.87" y2="83.30" stroke="#1a1a1a" stroke-width="0.72" />
<line x1="542.47" y1="77.30" x2="547.27" y2="77.30" stroke="#1a1a1a" stroke-width="0.72" />
<line x1="542.47" y1="83.30" x2="547.27" y2="83.30" stroke="#1a1a1a" stroke-width="0.72" />
<line x1="488.71" y1="48.20" x2="488.71" y2="63.20" stroke="#1a1a1a" stroke-width="0.72" />
<line x1="486.31" y1="48.20" x2="491.11" y2="48.20" stroke="#1a1a1a" stroke-width="0.72" />
<line x1="486.31" y1="63.20" x2="491.11" y2="63.20" stroke="#1a1a1a" stroke-width="0.72" />
<line x1="507.43" y1="36.70" x2="507.43" y2="57.60" stroke="#1a1a1a" stroke-width="0.72" />
<line x1="505.03" y1="36.70" x2="509.83" y2="36.70" stroke="#1a1a1a" stroke-width="0.72" />
<line x1="505.03" y1="57.60" x2="509.83" y2="57.60" stroke="#1a1a1a" stroke-width="0.72" />
<line x1="526.15" y1="30.70" x2="526.15" y2="57.60" stroke="#1a1a1a" stroke-width="0.72" />
<line x1="523.75" y1="30.70" x2="528.55" y2="30.70" stroke="#1a1a1a" stroke-width="0.72" />
<line x1="523.75" y1="57.60" x2="528.55" y2="57.60" stroke="#1a1a1a" stroke-width="0.72" />
<line x1="544.87" y1="21.60" x2="544.87" y2="59.40" stroke="#1a1a1a" stroke-width="0.72" />
<line x1="542.47" y1="21.60" x2="547.27" y2="21.60" stroke="#1a1a1a" stroke-width="0.72" />
<line x1="542.47" y1="59.40" x2="547.27" y2="59.40" stroke="#1a1a1a" stroke-width="0.72" />
<rect x="449.09" y="76.33" width="4.35" height="4.35" fill="#fff" fill-opacity="0.6" stroke="#222" stroke-width="0.75"/>
<rect x="467.81" y="80.12" width="4.35" height="4.35" fill="#fff" fill-opacity="0.6" stroke="#222" stroke-width="0.75"/>
<rect x="486.54" y="70.03" width="4.35" height="4.35" fill="#fff" fill-opacity="0.6" stroke="#222" stroke-width="0.75"/>
<rect x="505.25" y="70.03" width="4.35" height="4.35" fill="#fff" fill-opacity="0.6" stroke="#222" stroke-width="0.75"/>
<rect x="523.98" y="76.83" width="4.35" height="4.35" fill="#fff" fill-opacity="0.6" stroke="#222" stroke-width="0.75"/>
<rect x="542.70" y="78.12" width="4.35" height="4.35" fill="#fff" fill-opacity="0.6" stroke="#222" stroke-width="0.75"/>
<rect x="448.77" y="79.00" width="5.0" height="5.0" fill="#000"/>
<rect x="467.49" y="77.50" width="5.0" height="5.0" fill="#000"/>
<rect x="486.21" y="53.40" width="5.0" height="5.0" fill="#000"/>
<rect x="504.93" y="44.80" width="5.0" height="5.0" fill="#000"/>
<rect x="523.65" y="41.80" width="5.0" height="5.0" fill="#000"/>
<rect x="542.37" y="38.10" width="5.0" height="5.0" fill="#000"/>
<path d="M439.50 84.80L441.90 82.40L444.30 84.80L441.90 87.20Z" fill="#fff" stroke="#222" stroke-width="0.85"/>
<polygon points="526.15,25.60 526.62,26.75 527.86,26.84 526.91,27.65 527.21,28.86 526.15,28.20 525.09,28.86 525.39,27.65 524.44,26.84 525.68,26.75" fill="#111" stroke="#111" stroke-width="0.25" stroke-linejoin="round"/>
<polygon points="544.87,16.00 545.34,17.15 546.58,17.24 545.63,18.05 545.93,19.26 544.87,18.60 543.81,19.26 544.11,18.05 543.16,17.24 544.40,17.15" fill="#111" stroke="#111" stroke-width="0.25" stroke-linejoin="round"/>
<line x1="559.65" y1="16.00" x2="559.65" y2="97.80" stroke="#222" stroke-width="0.72" />
<line x1="559.25" y1="97.30" x2="673.91" y2="97.30" stroke="#222" stroke-width="0.72" />
<line x1="559.65" y1="97.30" x2="559.65" y2="98.45" stroke="#222" stroke-width="0.648" />
<text x="559.65" y="104.25" transform="rotate(0.03 559.65 104.25)" font-size="5.7" text-anchor="middle" font-weight="bold" fill="#111"  stroke="#111" stroke-width="0.12">0</text>
<line x1="578.41" y1="97.30" x2="578.41" y2="98.45" stroke="#222" stroke-width="0.648" />
<text x="578.41" y="104.25" transform="rotate(0.03 578.41 104.25)" font-size="5.7" text-anchor="middle" font-weight="bold" fill="#111"  stroke="#111" stroke-width="0.12">1</text>
<line x1="597.17" y1="97.30" x2="597.17" y2="98.45" stroke="#222" stroke-width="0.648" />
<text x="597.17" y="104.25" transform="rotate(0.03 597.17 104.25)" font-size="5.7" text-anchor="middle" font-weight="bold" fill="#111"  stroke="#111" stroke-width="0.12">2</text>
<line x1="615.93" y1="97.30" x2="615.93" y2="98.45" stroke="#222" stroke-width="0.648" />
<text x="615.93" y="104.25" transform="rotate(0.03 615.93 104.25)" font-size="5.7" text-anchor="middle" font-weight="bold" fill="#111"  stroke="#111" stroke-width="0.12">3</text>
<line x1="634.69" y1="97.30" x2="634.69" y2="98.45" stroke="#222" stroke-width="0.648" />
<text x="634.69" y="104.25" transform="rotate(0.03 634.69 104.25)" font-size="5.7" text-anchor="middle" font-weight="bold" fill="#111"  stroke="#111" stroke-width="0.12">4</text>
<line x1="653.45" y1="97.30" x2="653.45" y2="98.45" stroke="#222" stroke-width="0.648" />
<text x="653.45" y="104.25" transform="rotate(0.03 653.45 104.25)" font-size="5.7" text-anchor="middle" font-weight="bold" fill="#111"  stroke="#111" stroke-width="0.12">5</text>
<line x1="672.21" y1="97.30" x2="672.21" y2="98.45" stroke="#222" stroke-width="0.648" />
<text x="672.21" y="104.25" transform="rotate(0.03 672.21 104.25)" font-size="5.7" text-anchor="middle" font-weight="bold" fill="#111"  stroke="#111" stroke-width="0.12">6</text>
<line x1="557.95" y1="90.30" x2="559.65" y2="90.30" stroke="#222" stroke-width="0.648" />
<text x="557.05" y="92.35" transform="rotate(0.03 557.05 92.35)" font-size="5.7" text-anchor="end" font-weight="bold" fill="#111"  stroke="#111" stroke-width="0.12">10</text>
<line x1="557.95" y1="71.70" x2="559.65" y2="71.70" stroke="#222" stroke-width="0.648" />
<text x="557.05" y="73.75" transform="rotate(0.03 557.05 73.75)" font-size="5.7" text-anchor="end" font-weight="bold" fill="#111"  stroke="#111" stroke-width="0.12">20</text>
<line x1="557.95" y1="53.40" x2="559.65" y2="53.40" stroke="#222" stroke-width="0.648" />
<text x="557.05" y="55.45" transform="rotate(0.03 557.05 55.45)" font-size="5.7" text-anchor="end" font-weight="bold" fill="#111"  stroke="#111" stroke-width="0.12">30</text>
<line x1="557.95" y1="34.80" x2="559.65" y2="34.80" stroke="#222" stroke-width="0.648" />
<text x="557.05" y="36.85" transform="rotate(0.03 557.05 36.85)" font-size="5.7" text-anchor="end" font-weight="bold" fill="#111"  stroke="#111" stroke-width="0.12">40</text>
<line x1="557.95" y1="16.50" x2="559.65" y2="16.50" stroke="#222" stroke-width="0.648" />
<text x="557.05" y="18.55" transform="rotate(0.03 557.05 18.55)" font-size="5.7" text-anchor="end" font-weight="bold" fill="#111"  stroke="#111" stroke-width="0.12">50</text>
<text x="616.90" y="11.50" transform="rotate(0.03 616.90 11.50)" font-size="7.9" text-anchor="middle" font-weight="bold" fill="#111"  stroke="#111" stroke-width="0.3">IL-12p70</text>
<line x1="578.41" y1="89.80" x2="597.17" y2="94.00" stroke="#2a2a2a" stroke-width="0.65" stroke-dasharray="1.5 0.8"/>
<line x1="597.17" y1="94.00" x2="615.93" y2="92.30" stroke="#2a2a2a" stroke-width="0.65" stroke-dasharray="1.5 0.8"/>
<line x1="615.93" y1="92.30" x2="634.69" y2="89.80" stroke="#2a2a2a" stroke-width="0.65" stroke-dasharray="1.5 0.8"/>
<line x1="634.69" y1="89.80" x2="653.45" y2="91.30" stroke="#2a2a2a" stroke-width="0.65" stroke-dasharray="1.5 0.8"/>
<line x1="653.45" y1="91.30" x2="672.21" y2="93.60" stroke="#2a2a2a" stroke-width="0.65" stroke-dasharray="1.5 0.8"/>
<line x1="578.41" y1="94.00" x2="597.17" y2="94.00" stroke="#2a2a2a" stroke-width="0.65" stroke-dasharray="1.5 0.8"/>
<line x1="597.17" y1="94.00" x2="615.93" y2="92.30" stroke="#2a2a2a" stroke-width="0.65" stroke-dasharray="1.5 0.8"/>
<line x1="615.93" y1="92.30" x2="634.69" y2="89.50" stroke="#2a2a2a" stroke-width="0.65" stroke-dasharray="1.5 0.8"/>
<line x1="634.69" y1="89.50" x2="653.45" y2="92.30" stroke="#2a2a2a" stroke-width="0.65" stroke-dasharray="1.5 0.8"/>
<line x1="653.45" y1="92.30" x2="672.21" y2="91.30" stroke="#2a2a2a" stroke-width="0.65" stroke-dasharray="1.5 0.8"/>
<rect x="576.24" y="87.62" width="4.35" height="4.35" fill="#fff" fill-opacity="0.6" stroke="#222" stroke-width="0.75"/>
<rect x="595.00" y="91.83" width="4.35" height="4.35" fill="#fff" fill-opacity="0.6" stroke="#222" stroke-width="0.75"/>
<rect x="613.75" y="90.12" width="4.35" height="4.35" fill="#fff" fill-opacity="0.6" stroke="#222" stroke-width="0.75"/>
<rect x="632.51" y="87.62" width="4.35" height="4.35" fill="#fff" fill-opacity="0.6" stroke="#222" stroke-width="0.75"/>
<rect x="651.28" y="89.12" width="4.35" height="4.35" fill="#fff" fill-opacity="0.6" stroke="#222" stroke-width="0.75"/>
<rect x="670.04" y="91.42" width="4.35" height="4.35" fill="#fff" fill-opacity="0.6" stroke="#222" stroke-width="0.75"/>
<rect x="575.91" y="91.50" width="5.0" height="5.0" fill="#000"/>
<rect x="594.67" y="91.50" width="5.0" height="5.0" fill="#000"/>
<rect x="613.43" y="89.80" width="5.0" height="5.0" fill="#000"/>
<rect x="632.19" y="87.00" width="5.0" height="5.0" fill="#000"/>
<rect x="650.95" y="89.80" width="5.0" height="5.0" fill="#000"/>
<rect x="669.71" y="88.80" width="5.0" height="5.0" fill="#000"/>
<path d="M566.60 94.80L569.00 92.40L571.40 94.80L569.00 97.20Z" fill="#fff" stroke="#222" stroke-width="0.85"/>
<line x1="27.00" y1="128.60" x2="27.00" y2="209.95" stroke="#222" stroke-width="0.72" />
<line x1="26.60" y1="209.45" x2="141.20" y2="209.45" stroke="#222" stroke-width="0.72" />
<line x1="27.00" y1="209.45" x2="27.00" y2="210.60" stroke="#222" stroke-width="0.648" />
<text x="27.00" y="216.95" transform="rotate(0.03 27.00 216.95)" font-size="5.7" text-anchor="middle" font-weight="bold" fill="#111"  stroke="#111" stroke-width="0.12">0</text>
<line x1="45.75" y1="209.45" x2="45.75" y2="210.60" stroke="#222" stroke-width="0.648" />
<text x="45.75" y="216.95" transform="rotate(0.03 45.75 216.95)" font-size="5.7" text-anchor="middle" font-weight="bold" fill="#111"  stroke="#111" stroke-width="0.12">1</text>
<line x1="64.50" y1="209.45" x2="64.50" y2="210.60" stroke="#222" stroke-width="0.648" />
<text x="64.50" y="216.95" transform="rotate(0.03 64.50 216.95)" font-size="5.7" text-anchor="middle" font-weight="bold" fill="#111"  stroke="#111" stroke-width="0.12">2</text>
<line x1="83.25" y1="209.45" x2="83.25" y2="210.60" stroke="#222" stroke-width="0.648" />
<text x="83.25" y="216.95" transform="rotate(0.03 83.25 216.95)" font-size="5.7" text-anchor="middle" font-weight="bold" fill="#111"  stroke="#111" stroke-width="0.12">3</text>
<line x1="102.00" y1="209.45" x2="102.00" y2="210.60" stroke="#222" stroke-width="0.648" />
<text x="102.00" y="216.95" transform="rotate(0.03 102.00 216.95)" font-size="5.7" text-anchor="middle" font-weight="bold" fill="#111"  stroke="#111" stroke-width="0.12">4</text>
<line x1="120.75" y1="209.45" x2="120.75" y2="210.60" stroke="#222" stroke-width="0.648" />
<text x="120.75" y="216.95" transform="rotate(0.03 120.75 216.95)" font-size="5.7" text-anchor="middle" font-weight="bold" fill="#111"  stroke="#111" stroke-width="0.12">5</text>
<line x1="139.50" y1="209.45" x2="139.50" y2="210.60" stroke="#222" stroke-width="0.648" />
<text x="139.50" y="216.95" transform="rotate(0.03 139.50 216.95)" font-size="5.7" text-anchor="middle" font-weight="bold" fill="#111"  stroke="#111" stroke-width="0.12">6</text>
<line x1="25.30" y1="209.45" x2="27.00" y2="209.45" stroke="#222" stroke-width="0.648" />
<text x="24.40" y="211.50" transform="rotate(0.03 24.40 211.50)" font-size="5.7" text-anchor="end" font-weight="bold" fill="#111"  stroke="#111" stroke-width="0.12">0</text>
<line x1="25.30" y1="193.60" x2="27.00" y2="193.60" stroke="#222" stroke-width="0.648" />
<text x="24.40" y="195.65" transform="rotate(0.03 24.40 195.65)" font-size="5.7" text-anchor="end" font-weight="bold" fill="#111"  stroke="#111" stroke-width="0.12">20</text>
<line x1="25.30" y1="177.50" x2="27.00" y2="177.50" stroke="#222" stroke-width="0.648" />
<text x="24.40" y="179.55" transform="rotate(0.03 24.40 179.55)" font-size="5.7" text-anchor="end" font-weight="bold" fill="#111"  stroke="#111" stroke-width="0.12">40</text>
<line x1="25.30" y1="161.30" x2="27.00" y2="161.30" stroke="#222" stroke-width="0.648" />
<text x="24.40" y="163.35" transform="rotate(0.03 24.40 163.35)" font-size="5.7" text-anchor="end" font-weight="bold" fill="#111"  stroke="#111" stroke-width="0.12">60</text>
<line x1="25.30" y1="145.20" x2="27.00" y2="145.20" stroke="#222" stroke-width="0.648" />
<text x="24.40" y="147.25" transform="rotate(0.03 24.40 147.25)" font-size="5.7" text-anchor="end" font-weight="bold" fill="#111"  stroke="#111" stroke-width="0.12">80</text>
<line x1="25.30" y1="129.10" x2="27.00" y2="129.10" stroke="#222" stroke-width="0.648" />
<text x="24.40" y="131.15" transform="rotate(0.03 24.40 131.15)" font-size="5.7" text-anchor="end" font-weight="bold" fill="#111"  stroke="#111" stroke-width="0.12">100</text>
<text x="84.10" y="123.50" transform="rotate(0.03 84.10 123.50)" font-size="7.9" text-anchor="middle" font-weight="bold" fill="#111"  stroke="#111" stroke-width="0.3">IL-4</text>
<line x1="45.75" y1="189.50" x2="64.50" y2="206.30" stroke="#2a2a2a" stroke-width="0.65" />
<line x1="64.50" y1="206.30" x2="83.25" y2="198.30" stroke="#2a2a2a" stroke-width="0.65" stroke-dasharray="1.5 0.8"/>
<line x1="83.25" y1="198.30" x2="102.00" y2="195.30" stroke="#2a2a2a" stroke-width="0.65" stroke-dasharray="1.5 0.8"/>
<line x1="102.00" y1="195.30" x2="120.75" y2="200.30" stroke="#2a2a2a" stroke-width="0.65" stroke-dasharray="1.5 0.8"/>
<line x1="120.75" y1="200.30" x2="139.50" y2="191.50" stroke="#2a2a2a" stroke-width="0.65" stroke-dasharray="1.5 0.8"/>
<line x1="45.75" y1="198.80" x2="64.50" y2="202.00" stroke="#2a2a2a" stroke-width="0.65" stroke-dasharray="1.5 0.8"/>
<line x1="64.50" y1="202.00" x2="83.25" y2="193.50" stroke="#2a2a2a" stroke-width="0.65" stroke-dasharray="1.5 0.8"/>
<line x1="83.25" y1="193.50" x2="102.00" y2="195.30" stroke="#2a2a2a" stroke-width="0.65" stroke-dasharray="1.5 0.8"/>
<line x1="102.00" y1="195.30" x2="120.75" y2="204.60" stroke="#2a2a2a" stroke-width="0.65" stroke-dasharray="1.5 0.8"/>
<line x1="120.75" y1="204.60" x2="139.50" y2="198.30" stroke="#2a2a2a" stroke-width="0.65" stroke-dasharray="1.5 0.8"/>
<line x1="45.75" y1="185.20" x2="45.75" y2="194.00" stroke="#1a1a1a" stroke-width="0.72" />
<line x1="43.35" y1="185.20" x2="48.15" y2="185.20" stroke="#1a1a1a" stroke-width="0.72" />
<line x1="43.35" y1="194.00" x2="48.15" y2="194.00" stroke="#1a1a1a" stroke-width="0.72" />
<line x1="64.50" y1="201.00" x2="64.50" y2="209.00" stroke="#1a1a1a" stroke-width="0.72" />
<line x1="62.10" y1="201.00" x2="66.90" y2="201.00" stroke="#1a1a1a" stroke-width="0.72" />
<line x1="62.10" y1="209.00" x2="66.90" y2="209.00" stroke="#1a1a1a" stroke-width="0.72" />
<line x1="83.25" y1="194.00" x2="83.25" y2="203.80" stroke="#1a1a1a" stroke-width="0.72" />
<line x1="80.85" y1="194.00" x2="85.65" y2="194.00" stroke="#1a1a1a" stroke-width="0.72" />
<line x1="80.85" y1="203.80" x2="85.65" y2="203.80" stroke="#1a1a1a" stroke-width="0.72" />
<line x1="102.00" y1="190.00" x2="102.00" y2="203.30" stroke="#1a1a1a" stroke-width="0.72" />
<line x1="99.60" y1="190.00" x2="104.40" y2="190.00" stroke="#1a1a1a" stroke-width="0.72" />
<line x1="99.60" y1="203.30" x2="104.40" y2="203.30" stroke="#1a1a1a" stroke-width="0.72" />
<line x1="120.75" y1="193.80" x2="120.75" y2="205.00" stroke="#1a1a1a" stroke-width="0.72" />
<line x1="118.35" y1="193.80" x2="123.15" y2="193.80" stroke="#1a1a1a" stroke-width="0.72" />
<line x1="118.35" y1="205.00" x2="123.15" y2="205.00" stroke="#1a1a1a" stroke-width="0.72" />
<line x1="139.50" y1="182.00" x2="139.50" y2="198.00" stroke="#1a1a1a" stroke-width="0.72" />
<line x1="137.10" y1="182.00" x2="141.90" y2="182.00" stroke="#1a1a1a" stroke-width="0.72" />
<line x1="137.10" y1="198.00" x2="141.90" y2="198.00" stroke="#1a1a1a" stroke-width="0.72" />
<line x1="45.75" y1="193.00" x2="45.75" y2="204.60" stroke="#1a1a1a" stroke-width="0.72" />
<line x1="43.35" y1="193.00" x2="48.15" y2="193.00" stroke="#1a1a1a" stroke-width="0.72" />
<line x1="43.35" y1="204.60" x2="48.15" y2="204.60" stroke="#1a1a1a" stroke-width="0.72" />
<line x1="64.50" y1="193.80" x2="64.50" y2="209.00" stroke="#1a1a1a" stroke-width="0.72" />
<line x1="62.10" y1="193.80" x2="66.90" y2="193.80" stroke="#1a1a1a" stroke-width="0.72" />
<line x1="62.10" y1="209.00" x2="66.90" y2="209.00" stroke="#1a1a1a" stroke-width="0.72" />
<line x1="83.25" y1="184.50" x2="83.25" y2="201.00" stroke="#1a1a1a" stroke-width="0.72" />
<line x1="80.85" y1="184.50" x2="85.65" y2="184.50" stroke="#1a1a1a" stroke-width="0.72" />
<line x1="80.85" y1="201.00" x2="85.65" y2="201.00" stroke="#1a1a1a" stroke-width="0.72" />
<line x1="102.00" y1="187.50" x2="102.00" y2="201.50" stroke="#1a1a1a" stroke-width="0.72" />
<line x1="99.60" y1="187.50" x2="104.40" y2="187.50" stroke="#1a1a1a" stroke-width="0.72" />
<line x1="99.60" y1="201.50" x2="104.40" y2="201.50" stroke="#1a1a1a" stroke-width="0.72" />
<line x1="120.75" y1="198.00" x2="120.75" y2="209.00" stroke="#1a1a1a" stroke-width="0.72" />
<line x1="118.35" y1="198.00" x2="123.15" y2="198.00" stroke="#1a1a1a" stroke-width="0.72" />
<line x1="118.35" y1="209.00" x2="123.15" y2="209.00" stroke="#1a1a1a" stroke-width="0.72" />
<line x1="139.50" y1="192.00" x2="139.50" y2="204.60" stroke="#1a1a1a" stroke-width="0.72" />
<line x1="137.10" y1="192.00" x2="141.90" y2="192.00" stroke="#1a1a1a" stroke-width="0.72" />
<line x1="137.10" y1="204.60" x2="141.90" y2="204.60" stroke="#1a1a1a" stroke-width="0.72" />
<rect x="43.58" y="187.32" width="4.35" height="4.35" fill="#fff" fill-opacity="0.6" stroke="#222" stroke-width="0.75"/>
<rect x="62.33" y="204.12" width="4.35" height="4.35" fill="#fff" fill-opacity="0.6" stroke="#222" stroke-width="0.75"/>
<rect x="81.08" y="196.12" width="4.35" height="4.35" fill="#fff" fill-opacity="0.6" stroke="#222" stroke-width="0.75"/>
<rect x="99.83" y="193.12" width="4.35" height="4.35" fill="#fff" fill-opacity="0.6" stroke="#222" stroke-width="0.75"/>
<rect x="118.58" y="198.12" width="4.35" height="4.35" fill="#fff" fill-opacity="0.6" stroke="#222" stroke-width="0.75"/>
<rect x="137.32" y="189.32" width="4.35" height="4.35" fill="#fff" fill-opacity="0.6" stroke="#222" stroke-width="0.75"/>
<rect x="43.25" y="196.30" width="5.0" height="5.0" fill="#000"/>
<rect x="62.00" y="199.50" width="5.0" height="5.0" fill="#000"/>
<rect x="80.75" y="191.00" width="5.0" height="5.0" fill="#000"/>
<rect x="99.50" y="192.80" width="5.0" height="5.0" fill="#000"/>
<rect x="118.25" y="202.10" width="5.0" height="5.0" fill="#000"/>
<rect x="137.00" y="195.80" width="5.0" height="5.0" fill="#000"/>
<path d="M33.50 191.80L35.90 189.40L38.30 191.80L35.90 194.20Z" fill="#fff" stroke="#222" stroke-width="0.85"/>
<line x1="165.85" y1="128.60" x2="165.85" y2="210.15" stroke="#222" stroke-width="0.72" />
<line x1="165.45" y1="209.65" x2="279.87" y2="209.65" stroke="#222" stroke-width="0.72" />
<line x1="165.85" y1="209.65" x2="165.85" y2="210.80" stroke="#222" stroke-width="0.648" />
<text x="165.85" y="216.95" transform="rotate(0.03 165.85 216.95)" font-size="5.7" text-anchor="middle" font-weight="bold" fill="#111"  stroke="#111" stroke-width="0.12">0</text>
<line x1="184.57" y1="209.65" x2="184.57" y2="210.80" stroke="#222" stroke-width="0.648" />
<text x="184.57" y="216.95" transform="rotate(0.03 184.57 216.95)" font-size="5.7" text-anchor="middle" font-weight="bold" fill="#111"  stroke="#111" stroke-width="0.12">1</text>
<line x1="203.29" y1="209.65" x2="203.29" y2="210.80" stroke="#222" stroke-width="0.648" />
<text x="203.29" y="216.95" transform="rotate(0.03 203.29 216.95)" font-size="5.7" text-anchor="middle" font-weight="bold" fill="#111"  stroke="#111" stroke-width="0.12">2</text>
<line x1="222.01" y1="209.65" x2="222.01" y2="210.80" stroke="#222" stroke-width="0.648" />
<text x="222.01" y="216.95" transform="rotate(0.03 222.01 216.95)" font-size="5.7" text-anchor="middle" font-weight="bold" fill="#111"  stroke="#111" stroke-width="0.12">3</text>
<line x1="240.73" y1="209.65" x2="240.73" y2="210.80" stroke="#222" stroke-width="0.648" />
<text x="240.73" y="216.95" transform="rotate(0.03 240.73 216.95)" font-size="5.7" text-anchor="middle" font-weight="bold" fill="#111"  stroke="#111" stroke-width="0.12">4</text>
<line x1="259.45" y1="209.65" x2="259.45" y2="210.80" stroke="#222" stroke-width="0.648" />
<text x="259.45" y="216.95" transform="rotate(0.03 259.45 216.95)" font-size="5.7" text-anchor="middle" font-weight="bold" fill="#111"  stroke="#111" stroke-width="0.12">5</text>
<line x1="278.17" y1="209.65" x2="278.17" y2="210.80" stroke="#222" stroke-width="0.648" />
<text x="278.17" y="216.95" transform="rotate(0.03 278.17 216.95)" font-size="5.7" text-anchor="middle" font-weight="bold" fill="#111"  stroke="#111" stroke-width="0.12">6</text>
<line x1="164.15" y1="209.65" x2="165.85" y2="209.65" stroke="#222" stroke-width="0.648" />
<text x="163.25" y="211.70" transform="rotate(0.03 163.25 211.70)" font-size="5.7" text-anchor="end" font-weight="bold" fill="#111"  stroke="#111" stroke-width="0.12">0</text>
<line x1="164.15" y1="189.50" x2="165.85" y2="189.50" stroke="#222" stroke-width="0.648" />
<text x="163.25" y="191.55" transform="rotate(0.03 163.25 191.55)" font-size="5.7" text-anchor="end" font-weight="bold" fill="#111"  stroke="#111" stroke-width="0.12">100</text>
<line x1="164.15" y1="169.40" x2="165.85" y2="169.40" stroke="#222" stroke-width="0.648" />
<text x="163.25" y="171.45" transform="rotate(0.03 163.25 171.45)" font-size="5.7" text-anchor="end" font-weight="bold" fill="#111"  stroke="#111" stroke-width="0.12">200</text>
<line x1="164.15" y1="149.30" x2="165.85" y2="149.30" stroke="#222" stroke-width="0.648" />
<text x="163.25" y="151.35" transform="rotate(0.03 163.25 151.35)" font-size="5.7" text-anchor="end" font-weight="bold" fill="#111"  stroke="#111" stroke-width="0.12">300</text>
<line x1="164.15" y1="129.10" x2="165.85" y2="129.10" stroke="#222" stroke-width="0.648" />
<text x="163.25" y="131.15" transform="rotate(0.03 163.25 131.15)" font-size="5.7" text-anchor="end" font-weight="bold" fill="#111"  stroke="#111" stroke-width="0.12">400</text>
<text x="223.10" y="123.80" transform="rotate(0.03 223.10 123.80)" font-size="7.9" text-anchor="middle" font-weight="bold" fill="#111"  stroke="#111" stroke-width="0.3">IL-5</text>
<line x1="184.57" y1="194.50" x2="203.29" y2="195.00" stroke="#2a2a2a" stroke-width="0.65" stroke-dasharray="1.5 0.8"/>
<line x1="203.29" y1="195.00" x2="222.01" y2="185.70" stroke="#2a2a2a" stroke-width="0.65" stroke-dasharray="1.5 0.8"/>
<line x1="222.01" y1="185.70" x2="240.73" y2="170.20" stroke="#2a2a2a" stroke-width="0.65" />
<line x1="240.73" y1="170.20" x2="259.45" y2="156.10" stroke="#2a2a2a" stroke-width="0.65" />
<line x1="259.45" y1="156.10" x2="278.17" y2="147.50" stroke="#2a2a2a" stroke-width="0.65" stroke-dasharray="1.5 0.8"/>
<line x1="184.57" y1="199.80" x2="203.29" y2="198.80" stroke="#2a2a2a" stroke-width="0.65" stroke-dasharray="1.5 0.8"/>
<line x1="203.29" y1="198.80" x2="222.01" y2="197.50" stroke="#2a2a2a" stroke-width="0.65" stroke-dasharray="1.5 0.8"/>
<line x1="222.01" y1="197.50" x2="240.73" y2="193.80" stroke="#2a2a2a" stroke-width="0.65" stroke-dasharray="1.5 0.8"/>
<line x1="240.73" y1="193.80" x2="259.45" y2="193.80" stroke="#2a2a2a" stroke-width="0.65" stroke-dasharray="1.5 0.8"/>
<line x1="259.45" y1="193.80" x2="278.17" y2="192.00" stroke="#2a2a2a" stroke-width="0.65" stroke-dasharray="1.5 0.8"/>
<line x1="184.57" y1="191.30" x2="184.57" y2="197.50" stroke="#1a1a1a" stroke-width="0.72" />
<line x1="182.17" y1="191.30" x2="186.97" y2="191.30" stroke="#1a1a1a" stroke-width="0.72" />
<line x1="182.17" y1="197.50" x2="186.97" y2="197.50" stroke="#1a1a1a" stroke-width="0.72" />
<line x1="222.01" y1="175.00" x2="222.01" y2="194.50" stroke="#1a1a1a" stroke-width="0.72" />
<line x1="219.61" y1="175.00" x2="224.41" y2="175.00" stroke="#1a1a1a" stroke-width="0.72" />
<line x1="219.61" y1="194.50" x2="224.41" y2="194.50" stroke="#1a1a1a" stroke-width="0.72" />
<line x1="240.73" y1="155.60" x2="240.73" y2="183.70" stroke="#1a1a1a" stroke-width="0.72" />
<line x1="238.33" y1="155.60" x2="243.13" y2="155.60" stroke="#1a1a1a" stroke-width="0.72" />
<line x1="238.33" y1="183.70" x2="243.13" y2="183.70" stroke="#1a1a1a" stroke-width="0.72" />
<line x1="259.45" y1="142.00" x2="259.45" y2="170.00" stroke="#1a1a1a" stroke-width="0.72" />
<line x1="257.05" y1="142.00" x2="261.85" y2="142.00" stroke="#1a1a1a" stroke-width="0.72" />
<line x1="257.05" y1="170.00" x2="261.85" y2="170.00" stroke="#1a1a1a" stroke-width="0.72" />
<line x1="278.17" y1="134.40" x2="278.17" y2="160.10" stroke="#1a1a1a" stroke-width="0.72" />
<line x1="275.77" y1="134.40" x2="280.57" y2="134.40" stroke="#1a1a1a" stroke-width="0.72" />
<line x1="275.77" y1="160.10" x2="280.57" y2="160.10" stroke="#1a1a1a" stroke-width="0.72" />
<line x1="278.17" y1="187.00" x2="278.17" y2="197.50" stroke="#1a1a1a" stroke-width="0.72" />
<line x1="275.77" y1="187.00" x2="280.57" y2="187.00" stroke="#1a1a1a" stroke-width="0.72" />
<line x1="275.77" y1="197.50" x2="280.57" y2="197.50" stroke="#1a1a1a" stroke-width="0.72" />
<rect x="182.39" y="192.32" width="4.35" height="4.35" fill="#fff" fill-opacity="0.6" stroke="#222" stroke-width="0.75"/>
<rect x="201.11" y="192.82" width="4.35" height="4.35" fill="#fff" fill-opacity="0.6" stroke="#222" stroke-width="0.75"/>
<rect x="219.83" y="183.52" width="4.35" height="4.35" fill="#fff" fill-opacity="0.6" stroke="#222" stroke-width="0.75"/>
<rect x="238.55" y="168.02" width="4.35" height="4.35" fill="#fff" fill-opacity="0.6" stroke="#222" stroke-width="0.75"/>
<rect x="257.27" y="153.92" width="4.35" height="4.35" fill="#fff" fill-opacity="0.6" stroke="#222" stroke-width="0.75"/>
<rect x="275.99" y="145.32" width="4.35" height="4.35" fill="#fff" fill-opacity="0.6" stroke="#222" stroke-width="0.75"/>
<rect x="182.07" y="197.30" width="5.0" height="5.0" fill="#000"/>
<rect x="200.79" y="196.30" width="5.0" height="5.0" fill="#000"/>
<rect x="219.51" y="195.00" width="5.0" height="5.0" fill="#000"/>
<rect x="238.23" y="191.30" width="5.0" height="5.0" fill="#000"/>
<rect x="256.95" y="191.30" width="5.0" height="5.0" fill="#000"/>
<rect x="275.67" y="189.50" width="5.0" height="5.0" fill="#000"/>
<path d="M173.00 201.80L175.40 199.40L177.80 201.80L175.40 204.20Z" fill="#fff" stroke="#222" stroke-width="0.85"/>
<polygon points="259.45,136.00 259.92,137.15 261.16,137.24 260.21,138.05 260.51,139.26 259.45,138.60 258.39,139.26 258.69,138.05 257.74,137.24 258.98,137.15" fill="#111" stroke="#111" stroke-width="0.25" stroke-linejoin="round"/>
<polygon points="278.17,129.70 278.64,130.85 279.88,130.94 278.93,131.75 279.23,132.96 278.17,132.30 277.11,132.96 277.41,131.75 276.46,130.94 277.70,130.85" fill="#111" stroke="#111" stroke-width="0.25" stroke-linejoin="round"/>
<line x1="299.20" y1="128.60" x2="299.20" y2="210.40" stroke="#222" stroke-width="0.72" />
<line x1="298.80" y1="209.90" x2="413.52" y2="209.90" stroke="#222" stroke-width="0.72" />
<line x1="299.20" y1="209.90" x2="299.20" y2="211.05" stroke="#222" stroke-width="0.648" />
<text x="299.20" y="216.95" transform="rotate(0.03 299.20 216.95)" font-size="5.7" text-anchor="middle" font-weight="bold" fill="#111"  stroke="#111" stroke-width="0.12">0</text>
<line x1="317.97" y1="209.90" x2="317.97" y2="211.05" stroke="#222" stroke-width="0.648" />
<text x="317.97" y="216.95" transform="rotate(0.03 317.97 216.95)" font-size="5.7" text-anchor="middle" font-weight="bold" fill="#111"  stroke="#111" stroke-width="0.12">1</text>
<line x1="336.74" y1="209.90" x2="336.74" y2="211.05" stroke="#222" stroke-width="0.648" />
<text x="336.74" y="216.95" transform="rotate(0.03 336.74 216.95)" font-size="5.7" text-anchor="middle" font-weight="bold" fill="#111"  stroke="#111" stroke-width="0.12">2</text>
<line x1="355.51" y1="209.90" x2="355.51" y2="211.05" stroke="#222" stroke-width="0.648" />
<text x="355.51" y="216.95" transform="rotate(0.03 355.51 216.95)" font-size="5.7" text-anchor="middle" font-weight="bold" fill="#111"  stroke="#111" stroke-width="0.12">3</text>
<line x1="374.28" y1="209.90" x2="374.28" y2="211.05" stroke="#222" stroke-width="0.648" />
<text x="374.28" y="216.95" transform="rotate(0.03 374.28 216.95)" font-size="5.7" text-anchor="middle" font-weight="bold" fill="#111"  stroke="#111" stroke-width="0.12">4</text>
<line x1="393.05" y1="209.90" x2="393.05" y2="211.05" stroke="#222" stroke-width="0.648" />
<text x="393.05" y="216.95" transform="rotate(0.03 393.05 216.95)" font-size="5.7" text-anchor="middle" font-weight="bold" fill="#111"  stroke="#111" stroke-width="0.12">5</text>
<line x1="411.82" y1="209.90" x2="411.82" y2="211.05" stroke="#222" stroke-width="0.648" />
<text x="411.82" y="216.95" transform="rotate(0.03 411.82 216.95)" font-size="5.7" text-anchor="middle" font-weight="bold" fill="#111"  stroke="#111" stroke-width="0.12">6</text>
<line x1="297.50" y1="209.90" x2="299.20" y2="209.90" stroke="#222" stroke-width="0.648" />
<text x="296.80" y="212.10" transform="rotate(0.03 296.80 212.10)" font-size="5.8" text-anchor="end" font-weight="bold" fill="#111" stroke="#111" stroke-width="0.2">10<tspan font-size="4.1" dy="-2.1">1</tspan></text>
<line x1="297.50" y1="189.75" x2="299.20" y2="189.75" stroke="#222" stroke-width="0.648" />
<text x="296.80" y="191.95" transform="rotate(0.03 296.80 191.95)" font-size="5.8" text-anchor="end" font-weight="bold" fill="#111" stroke="#111" stroke-width="0.2">10<tspan font-size="4.1" dy="-2.1">2</tspan></text>
<line x1="297.50" y1="169.60" x2="299.20" y2="169.60" stroke="#222" stroke-width="0.648" />
<text x="296.80" y="171.80" transform="rotate(0.03 296.80 171.80)" font-size="5.8" text-anchor="end" font-weight="bold" fill="#111" stroke="#111" stroke-width="0.2">10<tspan font-size="4.1" dy="-2.1">3</tspan></text>
<line x1="297.50" y1="149.45" x2="299.20" y2="149.45" stroke="#222" stroke-width="0.648" />
<text x="296.80" y="151.65" transform="rotate(0.03 296.80 151.65)" font-size="5.8" text-anchor="end" font-weight="bold" fill="#111" stroke="#111" stroke-width="0.2">10<tspan font-size="4.1" dy="-2.1">4</tspan></text>
<line x1="297.50" y1="129.30" x2="299.20" y2="129.30" stroke="#222" stroke-width="0.648" />
<text x="296.80" y="131.50" transform="rotate(0.03 296.80 131.50)" font-size="5.8" text-anchor="end" font-weight="bold" fill="#111" stroke="#111" stroke-width="0.2">10<tspan font-size="4.1" dy="-2.1">5</tspan></text>
<line x1="298.10" y1="203.83" x2="299.20" y2="203.83" stroke="#222" stroke-width="0.5" />
<line x1="298.10" y1="200.29" x2="299.20" y2="200.29" stroke="#222" stroke-width="0.5" />
<line x1="298.10" y1="197.77" x2="299.20" y2="197.77" stroke="#222" stroke-width="0.5" />
<line x1="298.10" y1="195.82" x2="299.20" y2="195.82" stroke="#222" stroke-width="0.5" />
<line x1="298.10" y1="194.22" x2="299.20" y2="194.22" stroke="#222" stroke-width="0.5" />
<line x1="298.10" y1="192.87" x2="299.20" y2="192.87" stroke="#222" stroke-width="0.5" />
<line x1="298.10" y1="191.70" x2="299.20" y2="191.70" stroke="#222" stroke-width="0.5" />
<line x1="298.10" y1="190.67" x2="299.20" y2="190.67" stroke="#222" stroke-width="0.5" />
<line x1="298.10" y1="183.68" x2="299.20" y2="183.68" stroke="#222" stroke-width="0.5" />
<line x1="298.10" y1="180.14" x2="299.20" y2="180.14" stroke="#222" stroke-width="0.5" />
<line x1="298.10" y1="177.62" x2="299.20" y2="177.62" stroke="#222" stroke-width="0.5" />
<line x1="298.10" y1="175.67" x2="299.20" y2="175.67" stroke="#222" stroke-width="0.5" />
<line x1="298.10" y1="174.07" x2="299.20" y2="174.07" stroke="#222" stroke-width="0.5" />
<line x1="298.10" y1="172.72" x2="299.20" y2="172.72" stroke="#222" stroke-width="0.5" />
<line x1="298.10" y1="171.55" x2="299.20" y2="171.55" stroke="#222" stroke-width="0.5" />
<line x1="298.10" y1="170.52" x2="299.20" y2="170.52" stroke="#222" stroke-width="0.5" />
<line x1="298.10" y1="163.53" x2="299.20" y2="163.53" stroke="#222" stroke-width="0.5" />
<line x1="298.10" y1="159.99" x2="299.20" y2="159.99" stroke="#222" stroke-width="0.5" />
<line x1="298.10" y1="157.47" x2="299.20" y2="157.47" stroke="#222" stroke-width="0.5" />
<line x1="298.10" y1="155.52" x2="299.20" y2="155.52" stroke="#222" stroke-width="0.5" />
<line x1="298.10" y1="153.92" x2="299.20" y2="153.92" stroke="#222" stroke-width="0.5" />
<line x1="298.10" y1="152.57" x2="299.20" y2="152.57" stroke="#222" stroke-width="0.5" />
<line x1="298.10" y1="151.40" x2="299.20" y2="151.40" stroke="#222" stroke-width="0.5" />
<line x1="298.10" y1="150.37" x2="299.20" y2="150.37" stroke="#222" stroke-width="0.5" />
<line x1="298.10" y1="143.38" x2="299.20" y2="143.38" stroke="#222" stroke-width="0.5" />
<line x1="298.10" y1="139.84" x2="299.20" y2="139.84" stroke="#222" stroke-width="0.5" />
<line x1="298.10" y1="137.32" x2="299.20" y2="137.32" stroke="#222" stroke-width="0.5" />
<line x1="298.10" y1="135.37" x2="299.20" y2="135.37" stroke="#222" stroke-width="0.5" />
<line x1="298.10" y1="133.77" x2="299.20" y2="133.77" stroke="#222" stroke-width="0.5" />
<line x1="298.10" y1="132.42" x2="299.20" y2="132.42" stroke="#222" stroke-width="0.5" />
<line x1="298.10" y1="131.25" x2="299.20" y2="131.25" stroke="#222" stroke-width="0.5" />
<line x1="298.10" y1="130.22" x2="299.20" y2="130.22" stroke="#222" stroke-width="0.5" />
<text x="356.30" y="123.75" transform="rotate(0.03 356.30 123.75)" font-size="7.9" text-anchor="middle" font-weight="bold" fill="#111"  stroke="#111" stroke-width="0.3">IL-6</text>
<line x1="317.97" y1="142.20" x2="336.74" y2="142.20" stroke="#2a2a2a" stroke-width="0.65" stroke-dasharray="1.5 0.8"/>
<line x1="336.74" y1="142.20" x2="355.51" y2="142.20" stroke="#2a2a2a" stroke-width="0.65" stroke-dasharray="1.5 0.8"/>
<line x1="355.51" y1="142.20" x2="374.28" y2="142.20" stroke="#2a2a2a" stroke-width="0.65" stroke-dasharray="1.5 0.8"/>
<line x1="374.28" y1="142.20" x2="393.05" y2="145.20" stroke="#2a2a2a" stroke-width="0.65" stroke-dasharray="1.5 0.8"/>
<line x1="393.05" y1="145.20" x2="411.82" y2="144.40" stroke="#2a2a2a" stroke-width="0.65" stroke-dasharray="1.5 0.8"/>
<line x1="317.97" y1="203.30" x2="336.74" y2="203.80" stroke="#2a2a2a" stroke-width="0.65" stroke-dasharray="1.5 0.8"/>
<line x1="336.74" y1="203.80" x2="355.51" y2="205.10" stroke="#2a2a2a" stroke-width="0.65" stroke-dasharray="1.5 0.8"/>
<line x1="355.51" y1="205.10" x2="374.28" y2="199.60" stroke="#2a2a2a" stroke-width="0.65" stroke-dasharray="1.5 0.8"/>
<line x1="374.28" y1="199.60" x2="393.05" y2="195.50" stroke="#2a2a2a" stroke-width="0.65" stroke-dasharray="1.5 0.8"/>
<line x1="393.05" y1="195.50" x2="411.82" y2="195.50" stroke="#2a2a2a" stroke-width="0.65" stroke-dasharray="1.5 0.8"/>
<line x1="317.97" y1="139.00" x2="317.97" y2="145.50" stroke="#1a1a1a" stroke-width="0.72" />
<line x1="315.57" y1="139.00" x2="320.37" y2="139.00" stroke="#1a1a1a" stroke-width="0.72" />
<line x1="315.57" y1="145.50" x2="320.37" y2="145.50" stroke="#1a1a1a" stroke-width="0.72" />
<line x1="336.74" y1="139.00" x2="336.74" y2="145.50" stroke="#1a1a1a" stroke-width="0.72" />
<line x1="334.34" y1="139.00" x2="339.14" y2="139.00" stroke="#1a1a1a" stroke-width="0.72" />
<line x1="334.34" y1="145.50" x2="339.14" y2="145.50" stroke="#1a1a1a" stroke-width="0.72" />
<line x1="355.51" y1="139.00" x2="355.51" y2="145.50" stroke="#1a1a1a" stroke-width="0.72" />
<line x1="353.11" y1="139.00" x2="357.91" y2="139.00" stroke="#1a1a1a" stroke-width="0.72" />
<line x1="353.11" y1="145.50" x2="357.91" y2="145.50" stroke="#1a1a1a" stroke-width="0.72" />
<line x1="374.28" y1="139.00" x2="374.28" y2="145.50" stroke="#1a1a1a" stroke-width="0.72" />
<line x1="371.88" y1="139.00" x2="376.68" y2="139.00" stroke="#1a1a1a" stroke-width="0.72" />
<line x1="371.88" y1="145.50" x2="376.68" y2="145.50" stroke="#1a1a1a" stroke-width="0.72" />
<line x1="393.05" y1="141.50" x2="393.05" y2="148.60" stroke="#1a1a1a" stroke-width="0.72" />
<line x1="390.65" y1="141.50" x2="395.45" y2="141.50" stroke="#1a1a1a" stroke-width="0.72" />
<line x1="390.65" y1="148.60" x2="395.45" y2="148.60" stroke="#1a1a1a" stroke-width="0.72" />
<line x1="411.82" y1="140.50" x2="411.82" y2="147.30" stroke="#1a1a1a" stroke-width="0.72" />
<line x1="409.42" y1="140.50" x2="414.22" y2="140.50" stroke="#1a1a1a" stroke-width="0.72" />
<line x1="409.42" y1="147.30" x2="414.22" y2="147.30" stroke="#1a1a1a" stroke-width="0.72" />
<line x1="336.74" y1="200.50" x2="336.74" y2="207.00" stroke="#1a1a1a" stroke-width="0.72" />
<line x1="334.34" y1="200.50" x2="339.14" y2="200.50" stroke="#1a1a1a" stroke-width="0.72" />
<line x1="334.34" y1="207.00" x2="339.14" y2="207.00" stroke="#1a1a1a" stroke-width="0.72" />
<rect x="315.79" y="140.02" width="4.35" height="4.35" fill="#fff" fill-opacity="0.6" stroke="#222" stroke-width="0.75"/>
<rect x="334.56" y="140.02" width="4.35" height="4.35" fill="#fff" fill-opacity="0.6" stroke="#222" stroke-width="0.75"/>
<rect x="353.33" y="140.02" width="4.35" height="4.35" fill="#fff" fill-opacity="0.6" stroke="#222" stroke-width="0.75"/>
<rect x="372.10" y="140.02" width="4.35" height="4.35" fill="#fff" fill-opacity="0.6" stroke="#222" stroke-width="0.75"/>
<rect x="390.87" y="143.02" width="4.35" height="4.35" fill="#fff" fill-opacity="0.6" stroke="#222" stroke-width="0.75"/>
<rect x="409.64" y="142.22" width="4.35" height="4.35" fill="#fff" fill-opacity="0.6" stroke="#222" stroke-width="0.75"/>
<rect x="315.47" y="200.80" width="5.0" height="5.0" fill="#000"/>
<rect x="334.24" y="201.30" width="5.0" height="5.0" fill="#000"/>
<rect x="353.01" y="202.60" width="5.0" height="5.0" fill="#000"/>
<rect x="371.78" y="197.10" width="5.0" height="5.0" fill="#000"/>
<rect x="390.55" y="193.00" width="5.0" height="5.0" fill="#000"/>
<rect x="409.32" y="193.00" width="5.0" height="5.0" fill="#000"/>
<path d="M305.90 160.60L308.30 158.20L310.70 160.60L308.30 163.00Z" fill="#fff" stroke="#222" stroke-width="0.85"/>
<polygon points="316.17,133.90 316.64,135.05 317.88,135.14 316.93,135.95 317.23,137.16 316.17,136.50 315.11,137.16 315.41,135.95 314.46,135.14 315.70,135.05" fill="#111" stroke="#111" stroke-width="0.25" stroke-linejoin="round"/>
<polygon points="319.77,133.90 320.24,135.05 321.48,135.14 320.53,135.95 320.83,137.16 319.77,136.50 318.71,137.16 319.01,135.95 318.06,135.14 319.30,135.05" fill="#111" stroke="#111" stroke-width="0.25" stroke-linejoin="round"/>
<polygon points="334.94,134.30 335.41,135.45 336.65,135.54 335.70,136.35 336.00,137.56 334.94,136.90 333.88,137.56 334.18,136.35 333.23,135.54 334.47,135.45" fill="#111" stroke="#111" stroke-width="0.25" stroke-linejoin="round"/>
<polygon points="338.54,134.30 339.01,135.45 340.25,135.54 339.30,136.35 339.60,137.56 338.54,136.90 337.48,137.56 337.78,136.35 336.83,135.54 338.07,135.45" fill="#111" stroke="#111" stroke-width="0.25" stroke-linejoin="round"/>
<polygon points="353.71,133.10 354.18,134.25 355.42,134.34 354.47,135.15 354.77,136.36 353.71,135.70 352.65,136.36 352.95,135.15 352.00,134.34 353.24,134.25" fill="#111" stroke="#111" stroke-width="0.25" stroke-linejoin="round"/>
<polygon points="357.31,133.10 357.78,134.25 359.02,134.34 358.07,135.15 358.37,136.36 357.31,135.70 356.25,136.36 356.55,135.15 355.60,134.34 356.84,134.25" fill="#111" stroke="#111" stroke-width="0.25" stroke-linejoin="round"/>
<polygon points="372.48,133.90 372.95,135.05 374.19,135.14 373.24,135.95 373.54,137.16 372.48,136.50 371.42,137.16 371.72,135.95 370.77,135.14 372.01,135.05" fill="#111" stroke="#111" stroke-width="0.25" stroke-linejoin="round"/>
<polygon points="376.08,133.90 376.55,135.05 377.79,135.14 376.84,135.95 377.14,137.16 376.08,136.50 375.02,137.16 375.32,135.95 374.37,135.14 375.61,135.05" fill="#111" stroke="#111" stroke-width="0.25" stroke-linejoin="round"/>
<polygon points="391.25,136.50 391.72,137.65 392.96,137.74 392.01,138.55 392.31,139.76 391.25,139.10 390.19,139.76 390.49,138.55 389.54,137.74 390.78,137.65" fill="#111" stroke="#111" stroke-width="0.25" stroke-linejoin="round"/>
<polygon points="394.85,136.50 395.32,137.65 396.56,137.74 395.61,138.55 395.91,139.76 394.85,139.10 393.79,139.76 394.09,138.55 393.14,137.74 394.38,137.65" fill="#111" stroke="#111" stroke-width="0.25" stroke-linejoin="round"/>
<polygon points="410.02,135.90 410.49,137.05 411.73,137.14 410.78,137.95 411.08,139.16 410.02,138.50 408.96,139.16 409.26,137.95 408.31,137.14 409.55,137.05" fill="#111" stroke="#111" stroke-width="0.25" stroke-linejoin="round"/>
<polygon points="413.62,135.90 414.09,137.05 415.33,137.14 414.38,137.95 414.68,139.16 413.62,138.50 412.56,139.16 412.86,137.95 411.91,137.14 413.15,137.05" fill="#111" stroke="#111" stroke-width="0.25" stroke-linejoin="round"/>
<line x1="432.60" y1="128.60" x2="432.60" y2="210.60" stroke="#222" stroke-width="0.72" />
<line x1="432.20" y1="210.10" x2="546.80" y2="210.10" stroke="#222" stroke-width="0.72" />
<line x1="432.60" y1="210.10" x2="432.60" y2="211.25" stroke="#222" stroke-width="0.648" />
<text x="432.60" y="216.95" transform="rotate(0.03 432.60 216.95)" font-size="5.7" text-anchor="middle" font-weight="bold" fill="#111"  stroke="#111" stroke-width="0.12">0</text>
<line x1="451.35" y1="210.10" x2="451.35" y2="211.25" stroke="#222" stroke-width="0.648" />
<text x="451.35" y="216.95" transform="rotate(0.03 451.35 216.95)" font-size="5.7" text-anchor="middle" font-weight="bold" fill="#111"  stroke="#111" stroke-width="0.12">1</text>
<line x1="470.10" y1="210.10" x2="470.10" y2="211.25" stroke="#222" stroke-width="0.648" />
<text x="470.10" y="216.95" transform="rotate(0.03 470.10 216.95)" font-size="5.7" text-anchor="middle" font-weight="bold" fill="#111"  stroke="#111" stroke-width="0.12">2</text>
<line x1="488.85" y1="210.10" x2="488.85" y2="211.25" stroke="#222" stroke-width="0.648" />
<text x="488.85" y="216.95" transform="rotate(0.03 488.85 216.95)" font-size="5.7" text-anchor="middle" font-weight="bold" fill="#111"  stroke="#111" stroke-width="0.12">3</text>
<line x1="507.60" y1="210.10" x2="507.60" y2="211.25" stroke="#222" stroke-width="0.648" />
<text x="507.60" y="216.95" transform="rotate(0.03 507.60 216.95)" font-size="5.7" text-anchor="middle" font-weight="bold" fill="#111"  stroke="#111" stroke-width="0.12">4</text>
<line x1="526.35" y1="210.10" x2="526.35" y2="211.25" stroke="#222" stroke-width="0.648" />
<text x="526.35" y="216.95" transform="rotate(0.03 526.35 216.95)" font-size="5.7" text-anchor="middle" font-weight="bold" fill="#111"  stroke="#111" stroke-width="0.12">5</text>
<line x1="545.10" y1="210.10" x2="545.10" y2="211.25" stroke="#222" stroke-width="0.648" />
<text x="545.10" y="216.95" transform="rotate(0.03 545.10 216.95)" font-size="5.7" text-anchor="middle" font-weight="bold" fill="#111"  stroke="#111" stroke-width="0.12">6</text>
<line x1="430.90" y1="210.10" x2="432.60" y2="210.10" stroke="#222" stroke-width="0.648" />
<text x="430.00" y="212.15" transform="rotate(0.03 430.00 212.15)" font-size="5.7" text-anchor="end" font-weight="bold" fill="#111"  stroke="#111" stroke-width="0.12">0</text>
<line x1="430.90" y1="193.80" x2="432.60" y2="193.80" stroke="#222" stroke-width="0.648" />
<text x="430.00" y="195.85" transform="rotate(0.03 430.00 195.85)" font-size="5.7" text-anchor="end" font-weight="bold" fill="#111"  stroke="#111" stroke-width="0.12">200</text>
<line x1="430.90" y1="177.40" x2="432.60" y2="177.40" stroke="#222" stroke-width="0.648" />
<text x="430.00" y="179.45" transform="rotate(0.03 430.00 179.45)" font-size="5.7" text-anchor="end" font-weight="bold" fill="#111"  stroke="#111" stroke-width="0.12">400</text>
<line x1="430.90" y1="161.40" x2="432.60" y2="161.40" stroke="#222" stroke-width="0.648" />
<text x="430.00" y="163.45" transform="rotate(0.03 430.00 163.45)" font-size="5.7" text-anchor="end" font-weight="bold" fill="#111"  stroke="#111" stroke-width="0.12">600</text>
<line x1="430.90" y1="145.30" x2="432.60" y2="145.30" stroke="#222" stroke-width="0.648" />
<text x="430.00" y="147.35" transform="rotate(0.03 430.00 147.35)" font-size="5.7" text-anchor="end" font-weight="bold" fill="#111"  stroke="#111" stroke-width="0.12">800</text>
<line x1="430.90" y1="129.10" x2="432.60" y2="129.10" stroke="#222" stroke-width="0.648" />
<text x="430.00" y="131.15" transform="rotate(0.03 430.00 131.15)" font-size="5.7" text-anchor="end" font-weight="bold" fill="#111"  stroke="#111" stroke-width="0.12">1000</text>
<text x="489.90" y="123.70" transform="rotate(0.03 489.90 123.70)" font-size="7.9" text-anchor="middle" font-weight="bold" fill="#111"  stroke="#111" stroke-width="0.3">IL-10</text>
<line x1="451.35" y1="200.80" x2="470.10" y2="203.80" stroke="#2a2a2a" stroke-width="0.65" stroke-dasharray="1.5 0.8"/>
<line x1="470.10" y1="203.80" x2="488.85" y2="205.10" stroke="#2a2a2a" stroke-width="0.65" stroke-dasharray="1.5 0.8"/>
<line x1="488.85" y1="205.10" x2="507.60" y2="204.80" stroke="#2a2a2a" stroke-width="0.65" stroke-dasharray="1.5 0.8"/>
<line x1="507.60" y1="204.80" x2="526.35" y2="206.60" stroke="#2a2a2a" stroke-width="0.65" stroke-dasharray="1.5 0.8"/>
<line x1="526.35" y1="206.60" x2="545.10" y2="207.60" stroke="#2a2a2a" stroke-width="0.65" stroke-dasharray="1.5 0.8"/>
<line x1="451.35" y1="146.00" x2="470.10" y2="159.90" stroke="#2a2a2a" stroke-width="0.65" />
<line x1="470.10" y1="159.90" x2="488.85" y2="179.20" stroke="#2a2a2a" stroke-width="0.65" />
<line x1="488.85" y1="179.20" x2="507.60" y2="190.00" stroke="#2a2a2a" stroke-width="0.65" stroke-dasharray="1.5 0.8"/>
<line x1="507.60" y1="190.00" x2="526.35" y2="196.50" stroke="#2a2a2a" stroke-width="0.65" stroke-dasharray="1.5 0.8"/>
<line x1="526.35" y1="196.50" x2="545.10" y2="201.30" stroke="#2a2a2a" stroke-width="0.65" stroke-dasharray="1.5 0.8"/>
<line x1="451.35" y1="198.00" x2="451.35" y2="203.50" stroke="#1a1a1a" stroke-width="0.72" />
<line x1="448.95" y1="198.00" x2="453.75" y2="198.00" stroke="#1a1a1a" stroke-width="0.72" />
<line x1="448.95" y1="203.50" x2="453.75" y2="203.50" stroke="#1a1a1a" stroke-width="0.72" />
<line x1="451.35" y1="139.40" x2="451.35" y2="153.20" stroke="#1a1a1a" stroke-width="0.72" />
<line x1="448.95" y1="139.40" x2="453.75" y2="139.40" stroke="#1a1a1a" stroke-width="0.72" />
<line x1="448.95" y1="153.20" x2="453.75" y2="153.20" stroke="#1a1a1a" stroke-width="0.72" />
<rect x="449.18" y="198.62" width="4.35" height="4.35" fill="#fff" fill-opacity="0.6" stroke="#222" stroke-width="0.75"/>
<rect x="467.93" y="201.62" width="4.35" height="4.35" fill="#fff" fill-opacity="0.6" stroke="#222" stroke-width="0.75"/>
<rect x="486.68" y="202.92" width="4.35" height="4.35" fill="#fff" fill-opacity="0.6" stroke="#222" stroke-width="0.75"/>
<rect x="505.43" y="202.62" width="4.35" height="4.35" fill="#fff" fill-opacity="0.6" stroke="#222" stroke-width="0.75"/>
<rect x="524.18" y="204.42" width="4.35" height="4.35" fill="#fff" fill-opacity="0.6" stroke="#222" stroke-width="0.75"/>
<rect x="542.93" y="205.42" width="4.35" height="4.35" fill="#fff" fill-opacity="0.6" stroke="#222" stroke-width="0.75"/>
<rect x="448.85" y="143.50" width="5.0" height="5.0" fill="#000"/>
<rect x="467.60" y="157.40" width="5.0" height="5.0" fill="#000"/>
<rect x="486.35" y="176.70" width="5.0" height="5.0" fill="#000"/>
<rect x="505.10" y="187.50" width="5.0" height="5.0" fill="#000"/>
<rect x="523.85" y="194.00" width="5.0" height="5.0" fill="#000"/>
<rect x="542.60" y="198.80" width="5.0" height="5.0" fill="#000"/>
<path d="M439.70 196.30L442.10 193.90L444.50 196.30L442.10 198.70Z" fill="#fff" stroke="#222" stroke-width="0.85"/>
<polygon points="449.55,134.80 450.02,135.95 451.26,136.04 450.31,136.85 450.61,138.06 449.55,137.40 448.49,138.06 448.79,136.85 447.84,136.04 449.08,135.95" fill="#111" stroke="#111" stroke-width="0.25" stroke-linejoin="round"/>
<polygon points="453.15,134.80 453.62,135.95 454.86,136.04 453.91,136.85 454.21,138.06 453.15,137.40 452.09,138.06 452.39,136.85 451.44,136.04 452.68,135.95" fill="#111" stroke="#111" stroke-width="0.25" stroke-linejoin="round"/>
<polygon points="468.30,151.70 468.77,152.85 470.01,152.94 469.06,153.75 469.36,154.96 468.30,154.30 467.24,154.96 467.54,153.75 466.59,152.94 467.83,152.85" fill="#111" stroke="#111" stroke-width="0.25" stroke-linejoin="round"/>
<polygon points="471.90,151.70 472.37,152.85 473.61,152.94 472.66,153.75 472.96,154.96 471.90,154.30 470.84,154.96 471.14,153.75 470.19,152.94 471.43,152.85" fill="#111" stroke="#111" stroke-width="0.25" stroke-linejoin="round"/>
<polygon points="487.05,171.40 487.52,172.55 488.76,172.64 487.81,173.45 488.11,174.66 487.05,174.00 485.99,174.66 486.29,173.45 485.34,172.64 486.58,172.55" fill="#111" stroke="#111" stroke-width="0.25" stroke-linejoin="round"/>
<polygon points="490.65,171.40 491.12,172.55 492.36,172.64 491.41,173.45 491.71,174.66 490.65,174.00 489.59,174.66 489.89,173.45 488.94,172.64 490.18,172.55" fill="#111" stroke="#111" stroke-width="0.25" stroke-linejoin="round"/>
<polygon points="505.80,183.30 506.27,184.45 507.51,184.54 506.56,185.35 506.86,186.56 505.80,185.90 504.74,186.56 505.04,185.35 504.09,184.54 505.33,184.45" fill="#111" stroke="#111" stroke-width="0.25" stroke-linejoin="round"/>
<polygon points="509.40,183.30 509.87,184.45 511.11,184.54 510.16,185.35 510.46,186.56 509.40,185.90 508.34,186.56 508.64,185.35 507.69,184.54 508.93,184.45" fill="#111" stroke="#111" stroke-width="0.25" stroke-linejoin="round"/>
<polygon points="524.55,189.60 525.02,190.75 526.26,190.84 525.31,191.65 525.61,192.86 524.55,192.20 523.49,192.86 523.79,191.65 522.84,190.84 524.08,190.75" fill="#111" stroke="#111" stroke-width="0.25" stroke-linejoin="round"/>
<polygon points="528.15,189.60 528.62,190.75 529.86,190.84 528.91,191.65 529.21,192.86 528.15,192.20 527.09,192.86 527.39,191.65 526.44,190.84 527.68,190.75" fill="#111" stroke="#111" stroke-width="0.25" stroke-linejoin="round"/>
<polygon points="543.30,194.70 543.77,195.85 545.01,195.94 544.06,196.75 544.36,197.96 543.30,197.30 542.24,197.96 542.54,196.75 541.59,195.94 542.83,195.85" fill="#111" stroke="#111" stroke-width="0.25" stroke-linejoin="round"/>
<polygon points="546.90,194.70 547.37,195.85 548.61,195.94 547.66,196.75 547.96,197.96 546.90,197.30 545.84,197.96 546.14,196.75 545.19,195.94 546.43,195.85" fill="#111" stroke="#111" stroke-width="0.25" stroke-linejoin="round"/>
<line x1="559.50" y1="128.60" x2="559.50" y2="210.40" stroke="#222" stroke-width="0.72" />
<line x1="559.10" y1="209.90" x2="674.00" y2="209.90" stroke="#222" stroke-width="0.72" />
<line x1="559.50" y1="209.90" x2="559.50" y2="211.05" stroke="#222" stroke-width="0.648" />
<text x="559.50" y="216.95" transform="rotate(0.03 559.50 216.95)" font-size="5.7" text-anchor="middle" font-weight="bold" fill="#111"  stroke="#111" stroke-width="0.12">0</text>
<line x1="578.30" y1="209.90" x2="578.30" y2="211.05" stroke="#222" stroke-width="0.648" />
<text x="578.30" y="216.95" transform="rotate(0.03 578.30 216.95)" font-size="5.7" text-anchor="middle" font-weight="bold" fill="#111"  stroke="#111" stroke-width="0.12">1</text>
<line x1="597.10" y1="209.90" x2="597.10" y2="211.05" stroke="#222" stroke-width="0.648" />
<text x="597.10" y="216.95" transform="rotate(0.03 597.10 216.95)" font-size="5.7" text-anchor="middle" font-weight="bold" fill="#111"  stroke="#111" stroke-width="0.12">2</text>
<line x1="615.90" y1="209.90" x2="615.90" y2="211.05" stroke="#222" stroke-width="0.648" />
<text x="615.90" y="216.95" transform="rotate(0.03 615.90 216.95)" font-size="5.7" text-anchor="middle" font-weight="bold" fill="#111"  stroke="#111" stroke-width="0.12">3</text>
<line x1="634.70" y1="209.90" x2="634.70" y2="211.05" stroke="#222" stroke-width="0.648" />
<text x="634.70" y="216.95" transform="rotate(0.03 634.70 216.95)" font-size="5.7" text-anchor="middle" font-weight="bold" fill="#111"  stroke="#111" stroke-width="0.12">4</text>
<line x1="653.50" y1="209.90" x2="653.50" y2="211.05" stroke="#222" stroke-width="0.648" />
<text x="653.50" y="216.95" transform="rotate(0.03 653.50 216.95)" font-size="5.7" text-anchor="middle" font-weight="bold" fill="#111"  stroke="#111" stroke-width="0.12">5</text>
<line x1="672.30" y1="209.90" x2="672.30" y2="211.05" stroke="#222" stroke-width="0.648" />
<text x="672.30" y="216.95" transform="rotate(0.03 672.30 216.95)" font-size="5.7" text-anchor="middle" font-weight="bold" fill="#111"  stroke="#111" stroke-width="0.12">6</text>
<line x1="557.80" y1="209.90" x2="559.50" y2="209.90" stroke="#222" stroke-width="0.648" />
<text x="556.90" y="211.95" transform="rotate(0.03 556.90 211.95)" font-size="5.7" text-anchor="end" font-weight="bold" fill="#111"  stroke="#111" stroke-width="0.12">0</text>
<line x1="557.80" y1="189.80" x2="559.50" y2="189.80" stroke="#222" stroke-width="0.648" />
<text x="556.90" y="191.85" transform="rotate(0.03 556.90 191.85)" font-size="5.7" text-anchor="end" font-weight="bold" fill="#111"  stroke="#111" stroke-width="0.12">500</text>
<line x1="557.80" y1="169.40" x2="559.50" y2="169.40" stroke="#222" stroke-width="0.648" />
<text x="556.90" y="171.45" transform="rotate(0.03 556.90 171.45)" font-size="5.7" text-anchor="end" font-weight="bold" fill="#111"  stroke="#111" stroke-width="0.12">1000</text>
<line x1="557.80" y1="149.30" x2="559.50" y2="149.30" stroke="#222" stroke-width="0.648" />
<text x="556.90" y="151.35" transform="rotate(0.03 556.90 151.35)" font-size="5.7" text-anchor="end" font-weight="bold" fill="#111"  stroke="#111" stroke-width="0.12">1500</text>
<line x1="557.80" y1="129.10" x2="559.50" y2="129.10" stroke="#222" stroke-width="0.648" />
<text x="556.90" y="131.15" transform="rotate(0.03 556.90 131.15)" font-size="5.7" text-anchor="end" font-weight="bold" fill="#111"  stroke="#111" stroke-width="0.12">2000</text>
<text x="617.10" y="123.70" transform="rotate(0.03 617.10 123.70)" font-size="7.9" text-anchor="middle" font-weight="bold" fill="#111"  stroke="#111" stroke-width="0.3">IL-13</text>
<line x1="578.30" y1="207.80" x2="597.10" y2="207.50" stroke="#2a2a2a" stroke-width="0.65" stroke-dasharray="1.5 0.8"/>
<line x1="597.10" y1="207.50" x2="615.90" y2="205.10" stroke="#2a2a2a" stroke-width="0.65" stroke-dasharray="1.5 0.8"/>
<line x1="615.90" y1="205.10" x2="634.70" y2="196.00" stroke="#2a2a2a" stroke-width="0.65" stroke-dasharray="1.5 0.8"/>
<line x1="634.70" y1="196.00" x2="653.50" y2="196.00" stroke="#2a2a2a" stroke-width="0.65" stroke-dasharray="1.5 0.8"/>
<line x1="653.50" y1="196.00" x2="672.30" y2="179.50" stroke="#2a2a2a" stroke-width="0.65" />
<line x1="578.30" y1="207.80" x2="597.10" y2="207.10" stroke="#2a2a2a" stroke-width="0.65" stroke-dasharray="1.5 0.8"/>
<line x1="597.10" y1="207.10" x2="615.90" y2="200.10" stroke="#2a2a2a" stroke-width="0.65" stroke-dasharray="1.5 0.8"/>
<line x1="615.90" y1="200.10" x2="634.70" y2="183.20" stroke="#2a2a2a" stroke-width="0.65" />
<line x1="634.70" y1="183.20" x2="653.50" y2="170.90" stroke="#2a2a2a" stroke-width="0.65" stroke-dasharray="1.5 0.8"/>
<line x1="653.50" y1="170.90" x2="672.30" y2="153.80" stroke="#2a2a2a" stroke-width="0.65" />
<line x1="672.30" y1="174.40" x2="672.30" y2="184.50" stroke="#1a1a1a" stroke-width="0.72" />
<line x1="669.90" y1="174.40" x2="674.70" y2="174.40" stroke="#1a1a1a" stroke-width="0.72" />
<line x1="669.90" y1="184.50" x2="674.70" y2="184.50" stroke="#1a1a1a" stroke-width="0.72" />
<line x1="615.90" y1="195.30" x2="615.90" y2="204.50" stroke="#1a1a1a" stroke-width="0.72" />
<line x1="613.50" y1="195.30" x2="618.30" y2="195.30" stroke="#1a1a1a" stroke-width="0.72" />
<line x1="613.50" y1="204.50" x2="618.30" y2="204.50" stroke="#1a1a1a" stroke-width="0.72" />
<line x1="634.70" y1="177.40" x2="634.70" y2="188.30" stroke="#1a1a1a" stroke-width="0.72" />
<line x1="632.30" y1="177.40" x2="637.10" y2="177.40" stroke="#1a1a1a" stroke-width="0.72" />
<line x1="632.30" y1="188.30" x2="637.10" y2="188.30" stroke="#1a1a1a" stroke-width="0.72" />
<line x1="653.50" y1="164.60" x2="653.50" y2="176.90" stroke="#1a1a1a" stroke-width="0.72" />
<line x1="651.10" y1="164.60" x2="655.90" y2="164.60" stroke="#1a1a1a" stroke-width="0.72" />
<line x1="651.10" y1="176.90" x2="655.90" y2="176.90" stroke="#1a1a1a" stroke-width="0.72" />
<line x1="672.30" y1="145.50" x2="672.30" y2="161.90" stroke="#1a1a1a" stroke-width="0.72" />
<line x1="669.90" y1="145.50" x2="674.70" y2="145.50" stroke="#1a1a1a" stroke-width="0.72" />
<line x1="669.90" y1="161.90" x2="674.70" y2="161.90" stroke="#1a1a1a" stroke-width="0.72" />
<rect x="576.12" y="205.62" width="4.35" height="4.35" fill="#fff" fill-opacity="0.6" stroke="#222" stroke-width="0.75"/>
<rect x="594.93" y="205.32" width="4.35" height="4.35" fill="#fff" fill-opacity="0.6" stroke="#222" stroke-width="0.75"/>
<rect x="613.73" y="202.92" width="4.35" height="4.35" fill="#fff" fill-opacity="0.6" stroke="#222" stroke-width="0.75"/>
<rect x="632.53" y="193.82" width="4.35" height="4.35" fill="#fff" fill-opacity="0.6" stroke="#222" stroke-width="0.75"/>
<rect x="651.33" y="193.82" width="4.35" height="4.35" fill="#fff" fill-opacity="0.6" stroke="#222" stroke-width="0.75"/>
<rect x="670.12" y="177.32" width="4.35" height="4.35" fill="#fff" fill-opacity="0.6" stroke="#222" stroke-width="0.75"/>
<rect x="575.80" y="205.30" width="5.0" height="5.0" fill="#000"/>
<rect x="594.60" y="204.60" width="5.0" height="5.0" fill="#000"/>
<rect x="613.40" y="197.60" width="5.0" height="5.0" fill="#000"/>
<rect x="632.20" y="180.70" width="5.0" height="5.0" fill="#000"/>
<rect x="651.00" y="168.40" width="5.0" height="5.0" fill="#000"/>
<rect x="669.80" y="151.30" width="5.0" height="5.0" fill="#000"/>
<path d="M566.60 208.40L569.00 206.00L571.40 208.40L569.00 210.80Z" fill="#fff" stroke="#222" stroke-width="0.85"/>
<polygon points="653.50,160.20 653.97,161.35 655.21,161.44 654.26,162.25 654.56,163.46 653.50,162.80 652.44,163.46 652.74,162.25 651.79,161.44 653.03,161.35" fill="#111" stroke="#111" stroke-width="0.25" stroke-linejoin="round"/>
<polygon points="672.30,140.80 672.77,141.95 674.01,142.04 673.06,142.85 673.36,144.06 672.30,143.40 671.24,144.06 671.54,142.85 670.59,142.04 671.83,141.95" fill="#111" stroke="#111" stroke-width="0.25" stroke-linejoin="round"/>
<line x1="27.00" y1="241.60" x2="27.00" y2="323.40" stroke="#222" stroke-width="0.72" />
<line x1="26.60" y1="322.90" x2="141.38" y2="322.90" stroke="#222" stroke-width="0.72" />
<line x1="27.00" y1="322.90" x2="27.00" y2="324.05" stroke="#222" stroke-width="0.648" />
<text x="27.00" y="330.30" transform="rotate(0.03 27.00 330.30)" font-size="5.7" text-anchor="middle" font-weight="bold" fill="#111"  stroke="#111" stroke-width="0.12">0</text>
<line x1="45.78" y1="322.90" x2="45.78" y2="324.05" stroke="#222" stroke-width="0.648" />
<text x="45.78" y="330.30" transform="rotate(0.03 45.78 330.30)" font-size="5.7" text-anchor="middle" font-weight="bold" fill="#111"  stroke="#111" stroke-width="0.12">1</text>
<line x1="64.56" y1="322.90" x2="64.56" y2="324.05" stroke="#222" stroke-width="0.648" />
<text x="64.56" y="330.30" transform="rotate(0.03 64.56 330.30)" font-size="5.7" text-anchor="middle" font-weight="bold" fill="#111"  stroke="#111" stroke-width="0.12">2</text>
<line x1="83.34" y1="322.90" x2="83.34" y2="324.05" stroke="#222" stroke-width="0.648" />
<text x="83.34" y="330.30" transform="rotate(0.03 83.34 330.30)" font-size="5.7" text-anchor="middle" font-weight="bold" fill="#111"  stroke="#111" stroke-width="0.12">3</text>
<line x1="102.12" y1="322.90" x2="102.12" y2="324.05" stroke="#222" stroke-width="0.648" />
<text x="102.12" y="330.30" transform="rotate(0.03 102.12 330.30)" font-size="5.7" text-anchor="middle" font-weight="bold" fill="#111"  stroke="#111" stroke-width="0.12">4</text>
<line x1="120.90" y1="322.90" x2="120.90" y2="324.05" stroke="#222" stroke-width="0.648" />
<text x="120.90" y="330.30" transform="rotate(0.03 120.90 330.30)" font-size="5.7" text-anchor="middle" font-weight="bold" fill="#111"  stroke="#111" stroke-width="0.12">5</text>
<line x1="139.68" y1="322.90" x2="139.68" y2="324.05" stroke="#222" stroke-width="0.648" />
<text x="139.68" y="330.30" transform="rotate(0.03 139.68 330.30)" font-size="5.7" text-anchor="middle" font-weight="bold" fill="#111"  stroke="#111" stroke-width="0.12">6</text>
<line x1="25.30" y1="322.90" x2="27.00" y2="322.90" stroke="#222" stroke-width="0.648" />
<text x="24.40" y="324.95" transform="rotate(0.03 24.40 324.95)" font-size="5.7" text-anchor="end" font-weight="bold" fill="#111"  stroke="#111" stroke-width="0.12">0</text>
<line x1="25.30" y1="296.00" x2="27.00" y2="296.00" stroke="#222" stroke-width="0.648" />
<text x="24.40" y="298.05" transform="rotate(0.03 24.40 298.05)" font-size="5.7" text-anchor="end" font-weight="bold" fill="#111"  stroke="#111" stroke-width="0.12">100</text>
<line x1="25.30" y1="268.80" x2="27.00" y2="268.80" stroke="#222" stroke-width="0.648" />
<text x="24.40" y="270.85" transform="rotate(0.03 24.40 270.85)" font-size="5.7" text-anchor="end" font-weight="bold" fill="#111"  stroke="#111" stroke-width="0.12">200</text>
<line x1="25.30" y1="242.10" x2="27.00" y2="242.10" stroke="#222" stroke-width="0.648" />
<text x="24.40" y="244.15" transform="rotate(0.03 24.40 244.15)" font-size="5.7" text-anchor="end" font-weight="bold" fill="#111"  stroke="#111" stroke-width="0.12">300</text>
<text x="84.20" y="236.80" transform="rotate(0.03 84.20 236.80)" font-size="7.9" text-anchor="middle" font-weight="bold" fill="#111"  stroke="#111" stroke-width="0.3">IL-17A</text>
<line x1="45.78" y1="322.80" x2="64.56" y2="322.80" stroke="#2a2a2a" stroke-width="0.65" stroke-dasharray="1.5 0.8"/>
<line x1="64.56" y1="322.80" x2="83.34" y2="320.60" stroke="#2a2a2a" stroke-width="0.65" stroke-dasharray="1.5 0.8"/>
<line x1="83.34" y1="320.60" x2="102.12" y2="307.80" stroke="#2a2a2a" stroke-width="0.65" stroke-dasharray="1.5 0.8"/>
<line x1="102.12" y1="307.80" x2="120.90" y2="295.50" stroke="#2a2a2a" stroke-width="0.65" stroke-dasharray="1.5 0.8"/>
<line x1="120.90" y1="295.50" x2="139.68" y2="270.10" stroke="#2a2a2a" stroke-width="0.65" />
<line x1="45.78" y1="322.40" x2="64.56" y2="322.50" stroke="#2a2a2a" stroke-width="0.65" stroke-dasharray="1.5 0.8"/>
<line x1="64.56" y1="322.50" x2="83.34" y2="321.30" stroke="#2a2a2a" stroke-width="0.65" stroke-dasharray="1.5 0.8"/>
<line x1="83.34" y1="321.30" x2="102.12" y2="317.10" stroke="#2a2a2a" stroke-width="0.65" stroke-dasharray="1.5 0.8"/>
<line x1="102.12" y1="317.10" x2="120.90" y2="319.30" stroke="#2a2a2a" stroke-width="0.65" stroke-dasharray="1.5 0.8"/>
<line x1="120.90" y1="319.30" x2="139.68" y2="319.10" stroke="#2a2a2a" stroke-width="0.65" stroke-dasharray="1.5 0.8"/>
<line x1="102.12" y1="298.50" x2="102.12" y2="317.00" stroke="#1a1a1a" stroke-width="0.72" />
<line x1="99.72" y1="298.50" x2="104.52" y2="298.50" stroke="#1a1a1a" stroke-width="0.72" />
<line x1="99.72" y1="317.00" x2="104.52" y2="317.00" stroke="#1a1a1a" stroke-width="0.72" />
<line x1="120.90" y1="284.20" x2="120.90" y2="306.50" stroke="#1a1a1a" stroke-width="0.72" />
<line x1="118.50" y1="284.20" x2="123.30" y2="284.20" stroke="#1a1a1a" stroke-width="0.72" />
<line x1="118.50" y1="306.50" x2="123.30" y2="306.50" stroke="#1a1a1a" stroke-width="0.72" />
<line x1="139.68" y1="257.50" x2="139.68" y2="282.70" stroke="#1a1a1a" stroke-width="0.72" />
<line x1="137.28" y1="257.50" x2="142.08" y2="257.50" stroke="#1a1a1a" stroke-width="0.72" />
<line x1="137.28" y1="282.70" x2="142.08" y2="282.70" stroke="#1a1a1a" stroke-width="0.72" />
<line x1="139.68" y1="315.30" x2="139.68" y2="323.00" stroke="#1a1a1a" stroke-width="0.72" />
<line x1="137.28" y1="315.30" x2="142.08" y2="315.30" stroke="#1a1a1a" stroke-width="0.72" />
<line x1="137.28" y1="323.00" x2="142.08" y2="323.00" stroke="#1a1a1a" stroke-width="0.72" />
<rect x="43.61" y="320.62" width="4.35" height="4.35" fill="#fff" fill-opacity="0.6" stroke="#222" stroke-width="0.75"/>
<rect x="62.39" y="320.62" width="4.35" height="4.35" fill="#fff" fill-opacity="0.6" stroke="#222" stroke-width="0.75"/>
<rect x="81.17" y="318.43" width="4.35" height="4.35" fill="#fff" fill-opacity="0.6" stroke="#222" stroke-width="0.75"/>
<rect x="99.95" y="305.62" width="4.35" height="4.35" fill="#fff" fill-opacity="0.6" stroke="#222" stroke-width="0.75"/>
<rect x="118.73" y="293.32" width="4.35" height="4.35" fill="#fff" fill-opacity="0.6" stroke="#222" stroke-width="0.75"/>
<rect x="137.50" y="267.93" width="4.35" height="4.35" fill="#fff" fill-opacity="0.6" stroke="#222" stroke-width="0.75"/>
<rect x="43.28" y="319.90" width="5.0" height="5.0" fill="#000"/>
<rect x="62.06" y="320.00" width="5.0" height="5.0" fill="#000"/>
<rect x="80.84" y="318.80" width="5.0" height="5.0" fill="#000"/>
<rect x="99.62" y="314.60" width="5.0" height="5.0" fill="#000"/>
<rect x="118.40" y="316.80" width="5.0" height="5.0" fill="#000"/>
<rect x="137.18" y="316.60" width="5.0" height="5.0" fill="#000"/>
<path d="M33.90 322.60L36.30 320.20L38.70 322.60L36.30 325.00Z" fill="#fff" stroke="#222" stroke-width="0.85"/>
<polygon points="119.10,277.90 119.57,279.05 120.81,279.14 119.86,279.95 120.16,281.16 119.10,280.50 118.04,281.16 118.34,279.95 117.39,279.14 118.63,279.05" fill="#111" stroke="#111" stroke-width="0.25" stroke-linejoin="round"/>
<polygon points="122.70,277.90 123.17,279.05 124.41,279.14 123.46,279.95 123.76,281.16 122.70,280.50 121.64,281.16 121.94,279.95 120.99,279.14 122.23,279.05" fill="#111" stroke="#111" stroke-width="0.25" stroke-linejoin="round"/>
<polygon points="137.88,252.10 138.35,253.25 139.59,253.34 138.64,254.15 138.94,255.36 137.88,254.70 136.82,255.36 137.12,254.15 136.17,253.34 137.41,253.25" fill="#111" stroke="#111" stroke-width="0.25" stroke-linejoin="round"/>
<polygon points="141.48,252.10 141.95,253.25 143.19,253.34 142.24,254.15 142.54,255.36 141.48,254.70 140.42,255.36 140.72,254.15 139.77,253.34 141.01,253.25" fill="#111" stroke="#111" stroke-width="0.25" stroke-linejoin="round"/>
<line x1="165.40" y1="242.10" x2="165.40" y2="323.65" stroke="#222" stroke-width="0.72" />
<line x1="165.00" y1="323.15" x2="279.90" y2="323.15" stroke="#222" stroke-width="0.72" />
<line x1="165.40" y1="323.15" x2="165.40" y2="324.30" stroke="#222" stroke-width="0.648" />
<text x="165.40" y="330.30" transform="rotate(0.03 165.40 330.30)" font-size="5.7" text-anchor="middle" font-weight="bold" fill="#111"  stroke="#111" stroke-width="0.12">0</text>
<line x1="184.20" y1="323.15" x2="184.20" y2="324.30" stroke="#222" stroke-width="0.648" />
<text x="184.20" y="330.30" transform="rotate(0.03 184.20 330.30)" font-size="5.7" text-anchor="middle" font-weight="bold" fill="#111"  stroke="#111" stroke-width="0.12">1</text>
<line x1="203.00" y1="323.15" x2="203.00" y2="324.30" stroke="#222" stroke-width="0.648" />
<text x="203.00" y="330.30" transform="rotate(0.03 203.00 330.30)" font-size="5.7" text-anchor="middle" font-weight="bold" fill="#111"  stroke="#111" stroke-width="0.12">2</text>
<line x1="221.80" y1="323.15" x2="221.80" y2="324.30" stroke="#222" stroke-width="0.648" />
<text x="221.80" y="330.30" transform="rotate(0.03 221.80 330.30)" font-size="5.7" text-anchor="middle" font-weight="bold" fill="#111"  stroke="#111" stroke-width="0.12">3</text>
<line x1="240.60" y1="323.15" x2="240.60" y2="324.30" stroke="#222" stroke-width="0.648" />
<text x="240.60" y="330.30" transform="rotate(0.03 240.60 330.30)" font-size="5.7" text-anchor="middle" font-weight="bold" fill="#111"  stroke="#111" stroke-width="0.12">4</text>
<line x1="259.40" y1="323.15" x2="259.40" y2="324.30" stroke="#222" stroke-width="0.648" />
<text x="259.40" y="330.30" transform="rotate(0.03 259.40 330.30)" font-size="5.7" text-anchor="middle" font-weight="bold" fill="#111"  stroke="#111" stroke-width="0.12">5</text>
<line x1="278.20" y1="323.15" x2="278.20" y2="324.30" stroke="#222" stroke-width="0.648" />
<text x="278.20" y="330.30" transform="rotate(0.03 278.20 330.30)" font-size="5.7" text-anchor="middle" font-weight="bold" fill="#111"  stroke="#111" stroke-width="0.12">6</text>
<line x1="163.70" y1="323.15" x2="165.40" y2="323.15" stroke="#222" stroke-width="0.648" />
<text x="162.80" y="325.20" transform="rotate(0.03 162.80 325.20)" font-size="5.7" text-anchor="end" font-weight="bold" fill="#111"  stroke="#111" stroke-width="0.12">0</text>
<line x1="163.70" y1="307.30" x2="165.40" y2="307.30" stroke="#222" stroke-width="0.648" />
<text x="162.80" y="309.35" transform="rotate(0.03 162.80 309.35)" font-size="5.7" text-anchor="end" font-weight="bold" fill="#111"  stroke="#111" stroke-width="0.12">100</text>
<line x1="163.70" y1="291.20" x2="165.40" y2="291.20" stroke="#222" stroke-width="0.648" />
<text x="162.80" y="293.25" transform="rotate(0.03 162.80 293.25)" font-size="5.7" text-anchor="end" font-weight="bold" fill="#111"  stroke="#111" stroke-width="0.12">200</text>
<line x1="163.70" y1="274.90" x2="165.40" y2="274.90" stroke="#222" stroke-width="0.648" />
<text x="162.80" y="276.95" transform="rotate(0.03 162.80 276.95)" font-size="5.7" text-anchor="end" font-weight="bold" fill="#111"  stroke="#111" stroke-width="0.12">300</text>
<line x1="163.70" y1="258.80" x2="165.40" y2="258.80" stroke="#222" stroke-width="0.648" />
<text x="162.80" y="260.85" transform="rotate(0.03 162.80 260.85)" font-size="5.7" text-anchor="end" font-weight="bold" fill="#111"  stroke="#111" stroke-width="0.12">400</text>
<line x1="163.70" y1="242.60" x2="165.40" y2="242.60" stroke="#222" stroke-width="0.648" />
<text x="162.80" y="244.65" transform="rotate(0.03 162.80 244.65)" font-size="5.7" text-anchor="end" font-weight="bold" fill="#111"  stroke="#111" stroke-width="0.12">500</text>
<text x="222.90" y="237.50" transform="rotate(0.03 222.90 237.50)" font-size="7.9" text-anchor="middle" font-weight="bold" fill="#111"  stroke="#111" stroke-width="0.3">IL-22</text>
<line x1="184.20" y1="270.80" x2="203.00" y2="272.10" stroke="#2a2a2a" stroke-width="0.65" stroke-dasharray="1.5 0.8"/>
<line x1="203.00" y1="272.10" x2="221.80" y2="268.80" stroke="#2a2a2a" stroke-width="0.65" stroke-dasharray="1.5 0.8"/>
<line x1="221.80" y1="268.80" x2="240.60" y2="257.80" stroke="#2a2a2a" stroke-width="0.65" stroke-dasharray="1.5 0.8"/>
<line x1="240.60" y1="257.80" x2="259.40" y2="263.80" stroke="#2a2a2a" stroke-width="0.65" stroke-dasharray="1.5 0.8"/>
<line x1="259.40" y1="263.80" x2="278.20" y2="265.30" stroke="#2a2a2a" stroke-width="0.65" stroke-dasharray="1.5 0.8"/>
<line x1="184.20" y1="281.40" x2="203.00" y2="287.20" stroke="#2a2a2a" stroke-width="0.65" stroke-dasharray="1.5 0.8"/>
<line x1="203.00" y1="287.20" x2="221.80" y2="282.70" stroke="#2a2a2a" stroke-width="0.65" stroke-dasharray="1.5 0.8"/>
<line x1="221.80" y1="282.70" x2="240.60" y2="283.70" stroke="#2a2a2a" stroke-width="0.65" stroke-dasharray="1.5 0.8"/>
<line x1="240.60" y1="283.70" x2="259.40" y2="288.90" stroke="#2a2a2a" stroke-width="0.65" stroke-dasharray="1.5 0.8"/>
<line x1="259.40" y1="288.90" x2="278.20" y2="283.40" stroke="#2a2a2a" stroke-width="0.65" stroke-dasharray="1.5 0.8"/>
<line x1="184.20" y1="262.60" x2="184.20" y2="279.00" stroke="#1a1a1a" stroke-width="0.72" />
<line x1="181.80" y1="262.60" x2="186.60" y2="262.60" stroke="#1a1a1a" stroke-width="0.72" />
<line x1="181.80" y1="279.00" x2="186.60" y2="279.00" stroke="#1a1a1a" stroke-width="0.72" />
<line x1="203.00" y1="263.30" x2="203.00" y2="281.00" stroke="#1a1a1a" stroke-width="0.72" />
<line x1="200.60" y1="263.30" x2="205.40" y2="263.30" stroke="#1a1a1a" stroke-width="0.72" />
<line x1="200.60" y1="281.00" x2="205.40" y2="281.00" stroke="#1a1a1a" stroke-width="0.72" />
<line x1="221.80" y1="259.00" x2="221.80" y2="278.50" stroke="#1a1a1a" stroke-width="0.72" />
<line x1="219.40" y1="259.00" x2="224.20" y2="259.00" stroke="#1a1a1a" stroke-width="0.72" />
<line x1="219.40" y1="278.50" x2="224.20" y2="278.50" stroke="#1a1a1a" stroke-width="0.72" />
<line x1="240.60" y1="248.90" x2="240.60" y2="267.00" stroke="#1a1a1a" stroke-width="0.72" />
<line x1="238.20" y1="248.90" x2="243.00" y2="248.90" stroke="#1a1a1a" stroke-width="0.72" />
<line x1="238.20" y1="267.00" x2="243.00" y2="267.00" stroke="#1a1a1a" stroke-width="0.72" />
<line x1="259.40" y1="258.30" x2="259.40" y2="269.00" stroke="#1a1a1a" stroke-width="0.72" />
<line x1="257.00" y1="258.30" x2="261.80" y2="258.30" stroke="#1a1a1a" stroke-width="0.72" />
<line x1="257.00" y1="269.00" x2="261.80" y2="269.00" stroke="#1a1a1a" stroke-width="0.72" />
<line x1="278.20" y1="257.50" x2="278.20" y2="273.40" stroke="#1a1a1a" stroke-width="0.72" />
<line x1="275.80" y1="257.50" x2="280.60" y2="257.50" stroke="#1a1a1a" stroke-width="0.72" />
<line x1="275.80" y1="273.40" x2="280.60" y2="273.40" stroke="#1a1a1a" stroke-width="0.72" />
<line x1="203.00" y1="283.20" x2="203.00" y2="291.20" stroke="#1a1a1a" stroke-width="0.72" />
<line x1="200.60" y1="283.20" x2="205.40" y2="283.20" stroke="#1a1a1a" stroke-width="0.72" />
<line x1="200.60" y1="291.20" x2="205.40" y2="291.20" stroke="#1a1a1a" stroke-width="0.72" />
<line x1="221.80" y1="277.00" x2="221.80" y2="286.40" stroke="#1a1a1a" stroke-width="0.72" />
<line x1="219.40" y1="277.00" x2="224.20" y2="277.00" stroke="#1a1a1a" stroke-width="0.72" />
<line x1="219.40" y1="286.40" x2="224.20" y2="286.40" stroke="#1a1a1a" stroke-width="0.72" />
<line x1="240.60" y1="273.40" x2="240.60" y2="293.50" stroke="#1a1a1a" stroke-width="0.72" />
<line x1="238.20" y1="273.40" x2="243.00" y2="273.40" stroke="#1a1a1a" stroke-width="0.72" />
<line x1="238.20" y1="293.50" x2="243.00" y2="293.50" stroke="#1a1a1a" stroke-width="0.72" />
<line x1="259.40" y1="284.00" x2="259.40" y2="293.50" stroke="#1a1a1a" stroke-width="0.72" />
<line x1="257.00" y1="284.00" x2="261.80" y2="284.00" stroke="#1a1a1a" stroke-width="0.72" />
<line x1="257.00" y1="293.50" x2="261.80" y2="293.50" stroke="#1a1a1a" stroke-width="0.72" />
<line x1="278.20" y1="278.90" x2="278.20" y2="287.20" stroke="#1a1a1a" stroke-width="0.72" />
<line x1="275.80" y1="278.90" x2="280.60" y2="278.90" stroke="#1a1a1a" stroke-width="0.72" />
<line x1="275.80" y1="287.20" x2="280.60" y2="287.20" stroke="#1a1a1a" stroke-width="0.72" />
<rect x="182.03" y="268.62" width="4.35" height="4.35" fill="#fff" fill-opacity="0.6" stroke="#222" stroke-width="0.75"/>
<rect x="200.82" y="269.93" width="4.35" height="4.35" fill="#fff" fill-opacity="0.6" stroke="#222" stroke-width="0.75"/>
<rect x="219.62" y="266.62" width="4.35" height="4.35" fill="#fff" fill-opacity="0.6" stroke="#222" stroke-width="0.75"/>
<rect x="238.43" y="255.62" width="4.35" height="4.35" fill="#fff" fill-opacity="0.6" stroke="#222" stroke-width="0.75"/>
<rect x="257.22" y="261.62" width="4.35" height="4.35" fill="#fff" fill-opacity="0.6" stroke="#222" stroke-width="0.75"/>
<rect x="276.03" y="263.12" width="4.35" height="4.35" fill="#fff" fill-opacity="0.6" stroke="#222" stroke-width="0.75"/>
<rect x="181.70" y="278.90" width="5.0" height="5.0" fill="#000"/>
<rect x="200.50" y="284.70" width="5.0" height="5.0" fill="#000"/>
<rect x="219.30" y="280.20" width="5.0" height="5.0" fill="#000"/>
<rect x="238.10" y="281.20" width="5.0" height="5.0" fill="#000"/>
<rect x="256.90" y="286.40" width="5.0" height="5.0" fill="#000"/>
<rect x="275.70" y="280.90" width="5.0" height="5.0" fill="#000"/>
<path d="M172.80 307.50L175.20 305.10L177.60 307.50L175.20 309.90Z" fill="#fff" stroke="#222" stroke-width="0.85"/>
<polygon points="259.40,252.60 259.87,253.75 261.11,253.84 260.16,254.65 260.46,255.86 259.40,255.20 258.34,255.86 258.64,254.65 257.69,253.84 258.93,253.75" fill="#111" stroke="#111" stroke-width="0.25" stroke-linejoin="round"/>
<line x1="327.10" y1="241.60" x2="327.10" y2="323.50" stroke="#222" stroke-width="0.72" />
<line x1="326.70" y1="323.00" x2="441.30" y2="323.00" stroke="#222" stroke-width="0.72" />
<line x1="327.10" y1="323.00" x2="327.10" y2="323.90" stroke="#222" stroke-width="0.648" />
<text x="327.10" y="329.65" transform="rotate(0.03 327.10 329.65)" font-size="5.6" text-anchor="middle" font-weight="bold" fill="#111"  stroke="#111" stroke-width="0.12">0</text>
<line x1="345.85" y1="323.00" x2="345.85" y2="323.90" stroke="#222" stroke-width="0.648" />
<text x="345.85" y="329.65" transform="rotate(0.03 345.85 329.65)" font-size="5.6" text-anchor="middle" font-weight="bold" fill="#111"  stroke="#111" stroke-width="0.12">1</text>
<line x1="364.60" y1="323.00" x2="364.60" y2="323.90" stroke="#222" stroke-width="0.648" />
<text x="364.60" y="329.65" transform="rotate(0.03 364.60 329.65)" font-size="5.6" text-anchor="middle" font-weight="bold" fill="#111"  stroke="#111" stroke-width="0.12">2</text>
<line x1="383.35" y1="323.00" x2="383.35" y2="323.90" stroke="#222" stroke-width="0.648" />
<text x="383.35" y="329.65" transform="rotate(0.03 383.35 329.65)" font-size="5.6" text-anchor="middle" font-weight="bold" fill="#111"  stroke="#111" stroke-width="0.12">3</text>
<line x1="402.10" y1="323.00" x2="402.10" y2="323.90" stroke="#222" stroke-width="0.648" />
<text x="402.10" y="329.65" transform="rotate(0.03 402.10 329.65)" font-size="5.6" text-anchor="middle" font-weight="bold" fill="#111"  stroke="#111" stroke-width="0.12">4</text>
<line x1="420.85" y1="323.00" x2="420.85" y2="323.90" stroke="#222" stroke-width="0.648" />
<text x="420.85" y="329.65" transform="rotate(0.03 420.85 329.65)" font-size="5.6" text-anchor="middle" font-weight="bold" fill="#111"  stroke="#111" stroke-width="0.12">5</text>
<line x1="439.60" y1="323.00" x2="439.60" y2="323.90" stroke="#222" stroke-width="0.648" />
<text x="439.60" y="329.65" transform="rotate(0.03 439.60 329.65)" font-size="5.6" text-anchor="middle" font-weight="bold" fill="#111"  stroke="#111" stroke-width="0.12">6</text>
<line x1="325.40" y1="323.00" x2="327.10" y2="323.00" stroke="#222" stroke-width="0.648" />
<text x="324.50" y="325.05" transform="rotate(0.03 324.50 325.05)" font-size="5.6" text-anchor="end" font-weight="bold" fill="#111"  stroke="#111" stroke-width="0.12">0</text>
<line x1="325.40" y1="296.50" x2="327.10" y2="296.50" stroke="#222" stroke-width="0.648" />
<text x="324.50" y="298.55" transform="rotate(0.03 324.50 298.55)" font-size="5.6" text-anchor="end" font-weight="bold" fill="#111"  stroke="#111" stroke-width="0.12">50</text>
<line x1="325.40" y1="269.30" x2="327.10" y2="269.30" stroke="#222" stroke-width="0.648" />
<text x="324.50" y="271.35" transform="rotate(0.03 324.50 271.35)" font-size="5.6" text-anchor="end" font-weight="bold" fill="#111"  stroke="#111" stroke-width="0.12">100</text>
<line x1="325.40" y1="242.10" x2="327.10" y2="242.10" stroke="#222" stroke-width="0.648" />
<text x="324.50" y="244.15" transform="rotate(0.03 324.50 244.15)" font-size="5.6" text-anchor="end" font-weight="bold" fill="#111"  stroke="#111" stroke-width="0.12">150</text>
<text x="384.40" y="236.80" transform="rotate(0.03 384.40 236.80)" font-size="7.9" text-anchor="middle" font-weight="bold" fill="#111"  stroke="#111" stroke-width="0.3">IL-9</text>
<line x1="345.85" y1="306.00" x2="364.60" y2="307.80" stroke="#2a2a2a" stroke-width="0.65" stroke-dasharray="1.5 0.8"/>
<line x1="364.60" y1="307.80" x2="383.35" y2="301.70" stroke="#2a2a2a" stroke-width="0.65" stroke-dasharray="1.5 0.8"/>
<line x1="383.35" y1="301.70" x2="402.10" y2="284.70" stroke="#2a2a2a" stroke-width="0.65" />
<line x1="402.10" y1="284.70" x2="420.85" y2="268.30" stroke="#2a2a2a" stroke-width="0.65" />
<line x1="420.85" y1="268.30" x2="439.60" y2="258.80" stroke="#2a2a2a" stroke-width="0.65" stroke-dasharray="1.5 0.8"/>
<line x1="345.85" y1="311.50" x2="364.60" y2="312.30" stroke="#2a2a2a" stroke-width="0.65" stroke-dasharray="1.5 0.8"/>
<line x1="364.60" y1="312.30" x2="383.35" y2="313.60" stroke="#2a2a2a" stroke-width="0.65" stroke-dasharray="1.5 0.8"/>
<line x1="383.35" y1="313.60" x2="402.10" y2="305.30" stroke="#2a2a2a" stroke-width="0.65" stroke-dasharray="1.5 0.8"/>
<line x1="402.10" y1="305.30" x2="420.85" y2="294.20" stroke="#2a2a2a" stroke-width="0.65" stroke-dasharray="1.5 0.8"/>
<line x1="420.85" y1="294.20" x2="439.60" y2="294.20" stroke="#2a2a2a" stroke-width="0.65" stroke-dasharray="1.5 0.8"/>
<line x1="345.85" y1="298.50" x2="345.85" y2="313.00" stroke="#1a1a1a" stroke-width="0.72" />
<line x1="343.45" y1="298.50" x2="348.25" y2="298.50" stroke="#1a1a1a" stroke-width="0.72" />
<line x1="343.45" y1="313.00" x2="348.25" y2="313.00" stroke="#1a1a1a" stroke-width="0.72" />
<line x1="364.60" y1="299.20" x2="364.60" y2="316.00" stroke="#1a1a1a" stroke-width="0.72" />
<line x1="362.20" y1="299.20" x2="367.00" y2="299.20" stroke="#1a1a1a" stroke-width="0.72" />
<line x1="362.20" y1="316.00" x2="367.00" y2="316.00" stroke="#1a1a1a" stroke-width="0.72" />
<line x1="383.35" y1="295.50" x2="383.35" y2="307.30" stroke="#1a1a1a" stroke-width="0.72" />
<line x1="380.95" y1="295.50" x2="385.75" y2="295.50" stroke="#1a1a1a" stroke-width="0.72" />
<line x1="380.95" y1="307.30" x2="385.75" y2="307.30" stroke="#1a1a1a" stroke-width="0.72" />
<line x1="402.10" y1="271.30" x2="402.10" y2="298.50" stroke="#1a1a1a" stroke-width="0.72" />
<line x1="399.70" y1="271.30" x2="404.50" y2="271.30" stroke="#1a1a1a" stroke-width="0.72" />
<line x1="399.70" y1="298.50" x2="404.50" y2="298.50" stroke="#1a1a1a" stroke-width="0.72" />
<line x1="420.85" y1="253.80" x2="420.85" y2="281.40" stroke="#1a1a1a" stroke-width="0.72" />
<line x1="418.45" y1="253.80" x2="423.25" y2="253.80" stroke="#1a1a1a" stroke-width="0.72" />
<line x1="418.45" y1="281.40" x2="423.25" y2="281.40" stroke="#1a1a1a" stroke-width="0.72" />
<line x1="439.60" y1="250.40" x2="439.60" y2="266.60" stroke="#1a1a1a" stroke-width="0.72" />
<line x1="437.20" y1="250.40" x2="442.00" y2="250.40" stroke="#1a1a1a" stroke-width="0.72" />
<line x1="437.20" y1="266.60" x2="442.00" y2="266.60" stroke="#1a1a1a" stroke-width="0.72" />
<line x1="364.60" y1="307.80" x2="364.60" y2="316.60" stroke="#1a1a1a" stroke-width="0.72" />
<line x1="362.20" y1="307.80" x2="367.00" y2="307.80" stroke="#1a1a1a" stroke-width="0.72" />
<line x1="362.20" y1="316.60" x2="367.00" y2="316.60" stroke="#1a1a1a" stroke-width="0.72" />
<line x1="402.10" y1="298.50" x2="402.10" y2="309.80" stroke="#1a1a1a" stroke-width="0.72" />
<line x1="399.70" y1="298.50" x2="404.50" y2="298.50" stroke="#1a1a1a" stroke-width="0.72" />
<line x1="399.70" y1="309.80" x2="404.50" y2="309.80" stroke="#1a1a1a" stroke-width="0.72" />
<line x1="420.85" y1="286.70" x2="420.85" y2="301.50" stroke="#1a1a1a" stroke-width="0.72" />
<line x1="418.45" y1="286.70" x2="423.25" y2="286.70" stroke="#1a1a1a" stroke-width="0.72" />
<line x1="418.45" y1="301.50" x2="423.25" y2="301.50" stroke="#1a1a1a" stroke-width="0.72" />
<line x1="439.60" y1="286.40" x2="439.60" y2="301.70" stroke="#1a1a1a" stroke-width="0.72" />
<line x1="437.20" y1="286.40" x2="442.00" y2="286.40" stroke="#1a1a1a" stroke-width="0.72" />
<line x1="437.20" y1="301.70" x2="442.00" y2="301.70" stroke="#1a1a1a" stroke-width="0.72" />
<rect x="343.93" y="304.07" width="3.85" height="3.85" fill="#fff" fill-opacity="0.6" stroke="#222" stroke-width="0.75"/>
<rect x="362.68" y="305.88" width="3.85" height="3.85" fill="#fff" fill-opacity="0.6" stroke="#222" stroke-width="0.75"/>
<rect x="381.43" y="299.77" width="3.85" height="3.85" fill="#fff" fill-opacity="0.6" stroke="#222" stroke-width="0.75"/>
<rect x="400.18" y="282.77" width="3.85" height="3.85" fill="#fff" fill-opacity="0.6" stroke="#222" stroke-width="0.75"/>
<rect x="418.93" y="266.38" width="3.85" height="3.85" fill="#fff" fill-opacity="0.6" stroke="#222" stroke-width="0.75"/>
<rect x="437.68" y="256.88" width="3.85" height="3.85" fill="#fff" fill-opacity="0.6" stroke="#222" stroke-width="0.75"/>
<rect x="343.60" y="309.25" width="4.5" height="4.5" fill="#000"/>
<rect x="362.35" y="310.05" width="4.5" height="4.5" fill="#000"/>
<rect x="381.10" y="311.35" width="4.5" height="4.5" fill="#000"/>
<rect x="399.85" y="303.05" width="4.5" height="4.5" fill="#000"/>
<rect x="418.60" y="291.95" width="4.5" height="4.5" fill="#000"/>
<rect x="437.35" y="291.95" width="4.5" height="4.5" fill="#000"/>
<path d="M334.60 319.30L336.50 317.40L338.40 319.30L336.50 321.20Z" fill="#fff" stroke="#222" stroke-width="0.85"/>
<polygon points="439.60,244.10 440.07,245.25 441.31,245.34 440.36,246.15 440.66,247.36 439.60,246.70 438.54,247.36 438.84,246.15 437.89,245.34 439.13,245.25" fill="#111" stroke="#111" stroke-width="0.25" stroke-linejoin="round"/>
<line x1="460.50" y1="241.60" x2="460.50" y2="323.35" stroke="#222" stroke-width="0.72" />
<line x1="460.10" y1="322.85" x2="575.00" y2="322.85" stroke="#222" stroke-width="0.72" />
<line x1="460.50" y1="322.85" x2="460.50" y2="323.75" stroke="#222" stroke-width="0.648" />
<text x="460.50" y="329.65" transform="rotate(0.03 460.50 329.65)" font-size="5.6" text-anchor="middle" font-weight="bold" fill="#111"  stroke="#111" stroke-width="0.12">0</text>
<line x1="479.30" y1="322.85" x2="479.30" y2="323.75" stroke="#222" stroke-width="0.648" />
<text x="479.30" y="329.65" transform="rotate(0.03 479.30 329.65)" font-size="5.6" text-anchor="middle" font-weight="bold" fill="#111"  stroke="#111" stroke-width="0.12">1</text>
<line x1="498.10" y1="322.85" x2="498.10" y2="323.75" stroke="#222" stroke-width="0.648" />
<text x="498.10" y="329.65" transform="rotate(0.03 498.10 329.65)" font-size="5.6" text-anchor="middle" font-weight="bold" fill="#111"  stroke="#111" stroke-width="0.12">2</text>
<line x1="516.90" y1="322.85" x2="516.90" y2="323.75" stroke="#222" stroke-width="0.648" />
<text x="516.90" y="329.65" transform="rotate(0.03 516.90 329.65)" font-size="5.6" text-anchor="middle" font-weight="bold" fill="#111"  stroke="#111" stroke-width="0.12">3</text>
<line x1="535.70" y1="322.85" x2="535.70" y2="323.75" stroke="#222" stroke-width="0.648" />
<text x="535.70" y="329.65" transform="rotate(0.03 535.70 329.65)" font-size="5.6" text-anchor="middle" font-weight="bold" fill="#111"  stroke="#111" stroke-width="0.12">4</text>
<line x1="554.50" y1="322.85" x2="554.50" y2="323.75" stroke="#222" stroke-width="0.648" />
<text x="554.50" y="329.65" transform="rotate(0.03 554.50 329.65)" font-size="5.6" text-anchor="middle" font-weight="bold" fill="#111"  stroke="#111" stroke-width="0.12">5</text>
<line x1="573.30" y1="322.85" x2="573.30" y2="323.75" stroke="#222" stroke-width="0.648" />
<text x="573.30" y="329.65" transform="rotate(0.03 573.30 329.65)" font-size="5.6" text-anchor="middle" font-weight="bold" fill="#111"  stroke="#111" stroke-width="0.12">6</text>
<line x1="458.80" y1="322.85" x2="460.50" y2="322.85" stroke="#222" stroke-width="0.648" />
<text x="457.90" y="324.90" transform="rotate(0.03 457.90 324.90)" font-size="5.6" text-anchor="end" font-weight="bold" fill="#111"  stroke="#111" stroke-width="0.12">0</text>
<line x1="458.80" y1="302.60" x2="460.50" y2="302.60" stroke="#222" stroke-width="0.648" />
<text x="457.90" y="304.65" transform="rotate(0.03 457.90 304.65)" font-size="5.6" text-anchor="end" font-weight="bold" fill="#111"  stroke="#111" stroke-width="0.12">1000</text>
<line x1="458.80" y1="282.70" x2="460.50" y2="282.70" stroke="#222" stroke-width="0.648" />
<text x="457.90" y="284.75" transform="rotate(0.03 457.90 284.75)" font-size="5.6" text-anchor="end" font-weight="bold" fill="#111"  stroke="#111" stroke-width="0.12">2000</text>
<line x1="458.80" y1="262.60" x2="460.50" y2="262.60" stroke="#222" stroke-width="0.648" />
<text x="457.90" y="264.65" transform="rotate(0.03 457.90 264.65)" font-size="5.6" text-anchor="end" font-weight="bold" fill="#111"  stroke="#111" stroke-width="0.12">3000</text>
<line x1="458.80" y1="242.10" x2="460.50" y2="242.10" stroke="#222" stroke-width="0.648" />
<text x="457.90" y="244.15" transform="rotate(0.03 457.90 244.15)" font-size="5.6" text-anchor="end" font-weight="bold" fill="#111"  stroke="#111" stroke-width="0.12">4000</text>
<text x="517.90" y="236.80" transform="rotate(0.03 517.90 236.80)" font-size="7.9" text-anchor="middle" font-weight="bold" fill="#111"  stroke="#111" stroke-width="0.3">sIL-2R</text>
<line x1="479.30" y1="322.70" x2="498.10" y2="322.60" stroke="#2a2a2a" stroke-width="0.65" stroke-dasharray="1.5 0.8"/>
<line x1="498.10" y1="322.60" x2="516.90" y2="322.60" stroke="#2a2a2a" stroke-width="0.65" stroke-dasharray="1.5 0.8"/>
<line x1="516.90" y1="322.60" x2="535.70" y2="312.30" stroke="#2a2a2a" stroke-width="0.65" stroke-dasharray="1.5 0.8"/>
<line x1="535.70" y1="312.30" x2="554.50" y2="298.70" stroke="#2a2a2a" stroke-width="0.65" />
<line x1="554.50" y1="298.70" x2="573.30" y2="284.20" stroke="#2a2a2a" stroke-width="0.65" />
<line x1="479.30" y1="322.50" x2="498.10" y2="320.60" stroke="#2a2a2a" stroke-width="0.65" stroke-dasharray="1.5 0.8"/>
<line x1="498.10" y1="320.60" x2="516.90" y2="319.30" stroke="#2a2a2a" stroke-width="0.65" stroke-dasharray="1.5 0.8"/>
<line x1="516.90" y1="319.30" x2="535.70" y2="306.00" stroke="#2a2a2a" stroke-width="0.65" />
<line x1="535.70" y1="306.00" x2="554.50" y2="286.20" stroke="#2a2a2a" stroke-width="0.65" />
<line x1="554.50" y1="286.20" x2="573.30" y2="256.50" stroke="#2a2a2a" stroke-width="0.65" />
<line x1="554.50" y1="295.70" x2="554.50" y2="301.70" stroke="#1a1a1a" stroke-width="0.72" />
<line x1="552.10" y1="295.70" x2="556.90" y2="295.70" stroke="#1a1a1a" stroke-width="0.72" />
<line x1="552.10" y1="301.70" x2="556.90" y2="301.70" stroke="#1a1a1a" stroke-width="0.72" />
<line x1="573.30" y1="267.70" x2="573.30" y2="300.20" stroke="#1a1a1a" stroke-width="0.72" />
<line x1="570.90" y1="267.70" x2="575.70" y2="267.70" stroke="#1a1a1a" stroke-width="0.72" />
<line x1="570.90" y1="300.20" x2="575.70" y2="300.20" stroke="#1a1a1a" stroke-width="0.72" />
<line x1="573.30" y1="250.90" x2="573.30" y2="262.70" stroke="#1a1a1a" stroke-width="0.72" />
<line x1="570.90" y1="250.90" x2="575.70" y2="250.90" stroke="#1a1a1a" stroke-width="0.72" />
<line x1="570.90" y1="262.70" x2="575.70" y2="262.70" stroke="#1a1a1a" stroke-width="0.72" />
<rect x="477.38" y="320.77" width="3.85" height="3.85" fill="#fff" fill-opacity="0.6" stroke="#222" stroke-width="0.75"/>
<rect x="496.18" y="320.68" width="3.85" height="3.85" fill="#fff" fill-opacity="0.6" stroke="#222" stroke-width="0.75"/>
<rect x="514.98" y="320.68" width="3.85" height="3.85" fill="#fff" fill-opacity="0.6" stroke="#222" stroke-width="0.75"/>
<rect x="533.78" y="310.38" width="3.85" height="3.85" fill="#fff" fill-opacity="0.6" stroke="#222" stroke-width="0.75"/>
<rect x="552.58" y="296.77" width="3.85" height="3.85" fill="#fff" fill-opacity="0.6" stroke="#222" stroke-width="0.75"/>
<rect x="571.38" y="282.27" width="3.85" height="3.85" fill="#fff" fill-opacity="0.6" stroke="#222" stroke-width="0.75"/>
<rect x="477.05" y="320.25" width="4.5" height="4.5" fill="#000"/>
<rect x="495.85" y="318.35" width="4.5" height="4.5" fill="#000"/>
<rect x="514.65" y="317.05" width="4.5" height="4.5" fill="#000"/>
<rect x="533.45" y="303.75" width="4.5" height="4.5" fill="#000"/>
<rect x="552.25" y="283.95" width="4.5" height="4.5" fill="#000"/>
<rect x="571.05" y="254.25" width="4.5" height="4.5" fill="#000"/>
<path d="M468.60 318.90L470.10 317.40L471.60 318.90L470.10 320.40Z" fill="#fff" stroke="#222" stroke-width="0.85"/>
<polygon points="573.30,244.70 573.77,245.85 575.01,245.94 574.06,246.75 574.36,247.96 573.30,247.30 572.24,247.96 572.54,246.75 571.59,245.94 572.83,245.85" fill="#111" stroke="#111" stroke-width="0.25" stroke-linejoin="round"/>
<path d="M599.70 259.60L602.40 256.90L605.10 259.60L602.40 262.30Z" fill="#fff" stroke="#222" stroke-width="0.65"/>
<text x="609.00" y="262.10" transform="rotate(0.03 609.00 262.10)" font-size="7.7" text-anchor="start" font-weight="normal" fill="#000" stroke="#111" stroke-width="0.12" lengthAdjust="spacingAndGlyphs" textLength="37.8">CM-hAMSC</text>
<rect x="599.6" y="270.7" width="5.5" height="5.5" fill="none" stroke="#444" stroke-width="0.7"/>
<text x="610.10" y="276.30" transform="rotate(0.03 610.10 276.30)" font-size="7.7" text-anchor="start" font-weight="normal" fill="#000" stroke="#111" stroke-width="0.12" lengthAdjust="spacingAndGlyphs" textLength="14.9">MLR</text>
<rect x="599.65" y="284.85" width="5.5" height="5.5" fill="#000"/>
<text x="610.10" y="290.40" transform="rotate(0.03 610.10 290.40)" font-size="7.7" text-anchor="start" font-weight="normal" fill="#000" stroke="#111" stroke-width="0.12" lengthAdjust="spacingAndGlyphs" textLength="56.8">MLR+CM-hAMSC</text>
</svg>
</body></html>
